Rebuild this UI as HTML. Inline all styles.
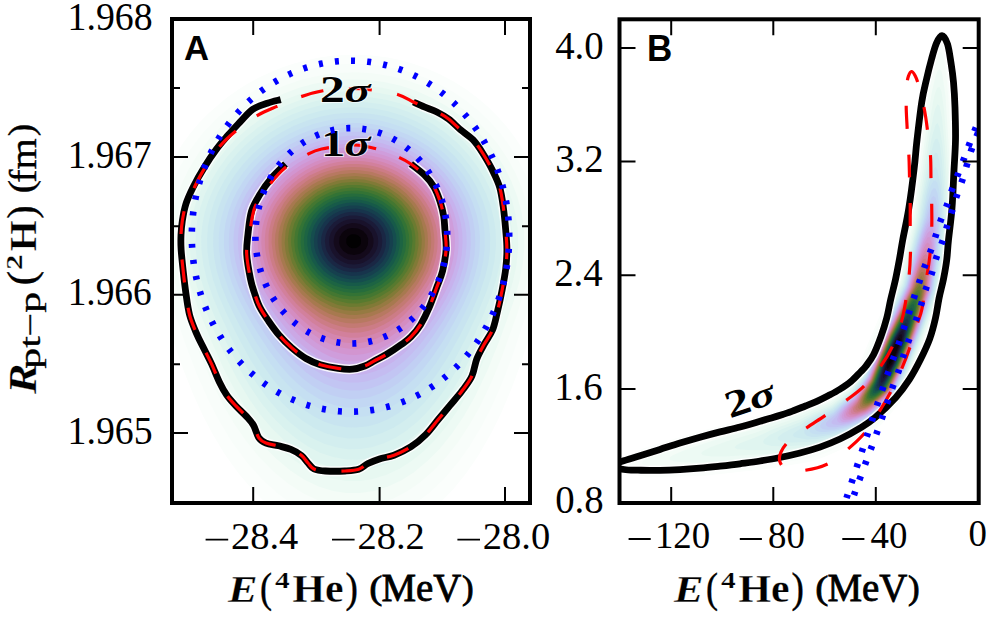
<!DOCTYPE html><html><head><meta charset="utf-8"><style>html,body{margin:0;padding:0;background:#fff;overflow:hidden}svg{display:block}</style></head><body><svg width="992" height="617" viewBox="0 0 992 617"><rect width="992" height="617" fill="#fff"/><defs><clipPath id="ca"><rect x="172" y="19" width="358" height="484"/></clipPath><clipPath id="cb"><rect x="619.5" y="19.3" width="359.20000000000005" height="483.7"/></clipPath><clipPath id="crb"><rect x="800" y="329" width="200" height="200"/></clipPath><clipPath id="crt"><rect x="800" y="0" width="200" height="329"/></clipPath></defs><g clip-path="url(#ca)"><path fill="#fbfefc" d="M344.0 54.9L358.0 54.7L372.0 55.5L388.0 57.6L400.0 60.1L414.0 64.0L426.0 68.2L440.0 74.3L454.0 81.7L466.0 89.3L478.0 98.2L488.2 107.0L498.2 117.0L507.0 127.0L514.6 137.0L522.6 149.0L530.0 162.4L531.1 191.0L531.5 241.0L531.1 295.0L530.0 334.9L520.9 363.0L511.4 389.0L501.2 413.0L491.3 433.0L478.7 455.0L466.4 473.0L453.5 489.0L440.0 503.0L410.0 504.1L354.0 504.5L298.0 504.2L265.8 503.0L252.0 489.3L238.2 473.0L225.3 455.0L213.1 435.0L202.6 415.0L192.6 393.0L183.1 369.0L172.0 337.1L170.6 271.0L171.0 183.0L172.0 161.1L176.6 153.0L183.1 143.0L190.5 133.0L199.0 123.0L208.0 113.7L226.0 98.2L238.0 89.7L248.0 83.5L258.0 78.1L270.0 72.4L282.0 67.6L294.0 63.6L306.0 60.4L318.0 57.8L332.0 55.8L344.0 54.9Z"/><path fill="#f8fdfa" d="M334.0 64.8L350.0 63.8L366.0 64.2L382.0 65.9L396.0 68.5L410.0 72.3L426.0 78.0L440.0 84.5L454.0 92.4L466.0 100.6L478.0 110.2L489.4 121.0L500.0 133.0L509.0 145.0L516.6 157.0L524.9 173.0L530.0 185.4L531.0 241.0L530.0 302.7L511.3 359.0L501.3 385.0L491.5 407.0L481.2 427.0L469.1 447.0L457.6 463.0L444.0 478.9L430.0 492.3L416.1 503.0L354.0 504.0L290.5 503.0L278.0 493.8L262.0 479.3L247.4 463.0L232.6 443.0L219.2 421.0L208.8 401.0L197.2 375.0L185.0 343.0L172.0 305.0L171.0 241.0L172.0 183.6L179.7 167.0L189.2 151.0L202.8 133.0L218.0 117.2L234.0 103.9L252.0 91.9L272.0 81.6L292.0 73.8L314.0 67.9L334.0 64.8Z"/><path fill="#f4fcf7" d="M338.0 72.9L356.0 72.3L372.0 73.2L390.0 75.9L406.0 79.9L422.0 85.6L436.0 92.0L450.0 99.9L464.0 109.7L477.2 121.0L488.8 133.0L498.5 145.0L507.8 159.0L515.4 173.0L521.5 187.0L526.6 203.0L530.0 219.1L530.0 264.4L527.8 277.0L524.9 289.0L516.8 315.0L501.0 359.0L491.1 383.0L479.6 407.0L469.4 425.0L458.0 442.2L446.0 457.5L434.0 470.3L420.0 482.4L408.0 490.7L394.0 498.2L381.0 503.0L326.3 503.0L318.0 500.2L304.0 493.7L288.0 483.5L274.0 472.1L259.1 457.0L246.1 441.0L233.7 423.0L223.2 405.0L211.3 381.0L198.6 351.0L183.1 309.0L176.7 289.0L172.0 268.8L172.0 215.0L174.8 203.0L181.1 185.0L188.7 169.0L198.6 153.0L209.3 139.0L222.0 125.5L236.0 113.3L250.0 103.3L266.0 94.0L284.0 85.8L302.0 79.6L320.0 75.4L338.0 72.9Z"/><path fill="#edfaf4" d="M330.0 80.9L348.0 79.4L366.0 79.7L384.0 81.9L400.0 85.5L416.0 90.8L432.0 97.9L446.0 105.8L460.0 115.6L473.3 127.0L484.7 139.0L495.5 153.0L504.3 167.0L511.3 181.0L517.4 197.0L521.7 213.0L524.2 231.0L524.4 247.0L522.7 265.0L519.0 283.0L513.1 303.0L499.3 341.0L487.2 371.0L474.7 397.0L463.3 417.0L452.0 433.6L440.0 448.4L428.0 460.6L414.0 472.2L402.0 479.9L388.0 486.6L374.0 491.0L360.0 493.1L346.0 493.0L332.0 490.7L318.0 486.2L304.0 479.4L290.0 470.2L276.0 458.6L264.0 446.4L251.3 431.0L238.9 413.0L228.3 395.0L217.3 373.0L206.8 349.0L193.4 315.0L185.1 291.0L179.7 269.0L177.4 251.0L177.2 235.0L178.6 221.0L181.5 207.0L185.9 193.0L191.9 179.0L199.5 165.0L209.0 151.0L219.0 139.0L230.0 127.9L242.0 117.7L256.0 107.9L270.0 99.9L284.0 93.4L300.0 87.6L314.0 83.8L330.0 80.9Z"/><path fill="#e7f8f1" d="M332.0 86.8L348.0 85.5L366.0 85.8L382.0 87.8L398.0 91.3L414.0 96.6L428.0 102.7L442.0 110.5L456.0 120.3L468.5 131.0L480.0 143.1L490.8 157.0L499.4 171.0L507.2 187.0L512.2 201.0L515.7 215.0L517.9 231.0L518.2 247.0L516.4 265.0L513.1 281.0L507.1 301.0L495.1 333.0L480.9 367.0L469.1 391.0L458.5 409.0L447.5 425.0L436.0 438.9L424.0 451.0L412.0 460.8L400.0 468.5L386.0 475.1L372.0 479.3L360.0 481.0L346.0 480.9L332.0 478.6L318.0 473.9L306.0 468.0L292.0 458.8L280.0 448.9L268.0 436.8L256.0 422.4L245.1 407.0L233.1 387.0L222.9 367.0L210.5 339.0L198.4 309.0L190.8 287.0L186.3 269.0L184.0 251.0L183.7 237.0L184.9 223.0L187.7 209.0L192.1 195.0L197.1 183.0L204.6 169.0L214.0 155.0L223.9 143.0L234.0 132.8L246.0 122.6L258.0 114.1L272.0 105.9L286.0 99.3L300.0 94.0L316.0 89.6L332.0 86.8Z"/><path fill="#e0f5f0" d="M330.0 92.7L346.0 91.2L362.0 91.2L378.0 92.8L394.0 96.1L408.0 100.4L424.0 107.0L438.0 114.7L452.0 124.3L464.5 135.0L475.9 147.0L485.3 159.0L494.1 173.0L501.0 187.0L506.8 203.0L510.3 217.0L512.1 231.0L512.4 247.0L510.9 263.0L507.6 279.0L502.3 297.0L490.9 327.0L477.2 359.0L466.3 381.0L454.6 401.0L444.0 416.3L433.5 429.0L422.0 440.6L410.0 450.5L398.0 458.2L386.0 463.9L374.0 467.8L360.0 470.0L346.0 469.9L334.0 467.9L320.0 463.4L308.0 457.6L296.0 449.9L284.0 440.2L272.0 428.4L260.6 415.0L249.2 399.0L237.2 379.0L226.9 359.0L215.0 333.0L203.4 305.0L197.1 287.0L192.5 269.0L190.2 253.0L189.7 239.0L190.7 225.0L192.9 213.0L197.0 199.0L202.7 185.0L209.1 173.0L216.9 161.0L226.4 149.0L236.0 138.9L248.0 128.3L260.0 119.6L272.0 112.3L286.0 105.4L300.0 100.0L314.0 95.8L330.0 92.7Z"/><path fill="#d9f2ef" d="M340.0 96.9L356.0 96.4L370.0 97.2L386.0 99.7L400.0 103.3L414.0 108.4L428.0 115.1L440.0 122.3L452.0 131.2L464.0 142.0L473.9 153.0L482.8 165.0L491.2 179.0L497.6 193.0L502.3 207.0L505.4 221.0L506.9 235.0L506.8 249.0L505.0 265.0L501.5 281.0L496.4 297.0L487.0 321.0L472.9 353.0L461.8 375.0L449.8 395.0L439.9 409.0L428.0 423.0L417.6 433.0L406.0 442.1L394.0 449.4L382.0 454.7L370.0 458.1L358.0 459.7L346.0 459.4L332.0 456.8L320.0 452.7L308.0 446.6L296.0 438.6L284.0 428.6L272.7 417.0L262.0 404.0L250.0 386.6L238.5 367.0L226.5 343.0L213.0 313.0L205.2 293.0L200.2 277.0L196.9 261.0L195.5 247.0L195.7 233.0L197.1 221.0L200.4 207.0L204.5 195.0L211.1 181.0L218.2 169.0L226.9 157.0L236.0 146.7L246.2 137.0L258.0 127.6L270.0 119.7L284.0 112.3L298.0 106.4L312.0 101.9L326.0 98.8L340.0 96.9Z"/><path fill="#d3eeef" d="M334.0 102.9L348.0 101.8L364.0 102.0L380.0 104.0L394.0 107.1L408.0 111.8L422.0 118.0L434.0 124.8L446.0 133.2L457.4 143.0L468.0 154.3L477.7 167.0L485.1 179.0L491.0 191.0L496.1 205.0L499.6 219.0L501.4 233.0L501.5 247.0L499.9 263.0L496.9 277.0L492.0 293.0L483.3 315.0L470.0 344.5L458.5 367.0L447.8 385.0L438.0 399.0L428.0 411.0L418.0 421.2L406.0 431.0L396.0 437.5L384.0 443.3L372.0 447.2L360.0 449.1L348.0 449.2L336.0 447.3L324.0 443.7L312.0 438.0L300.8 431.0L290.0 422.4L278.2 411.0L268.0 399.1L256.3 383.0L245.3 365.0L233.6 343.0L220.4 315.0L212.8 297.0L207.3 281.0L203.4 265.0L201.5 251.0L201.2 237.0L202.3 225.0L204.6 213.0L208.3 201.0L213.3 189.0L219.7 177.0L227.7 165.0L236.0 154.8L245.5 145.0L256.0 135.9L268.0 127.3L280.0 120.3L292.0 114.5L306.0 109.2L320.0 105.4L334.0 102.9Z"/><path fill="#cdeaef" d="M332.0 108.8L346.0 107.4L360.0 107.3L374.0 108.6L388.0 111.3L402.0 115.4L416.0 121.2L428.0 127.6L440.0 135.6L451.4 145.0L461.3 155.0L471.0 167.0L478.7 179.0L485.8 193.0L490.3 205.0L493.9 219.0L495.6 231.0L496.0 245.0L494.5 261.0L491.6 275.0L486.7 291.0L478.0 312.5L466.0 338.1L454.0 360.8L444.0 377.2L434.0 391.2L424.1 403.0L414.0 412.9L404.0 421.0L394.0 427.4L382.0 433.1L370.0 436.8L360.0 438.3L348.0 438.4L336.0 436.5L324.9 433.0L314.0 427.9L303.0 421.0L292.0 412.3L282.0 402.7L272.0 391.2L260.1 375.0L250.0 358.9L238.0 336.9L226.0 312.5L218.4 295.0L212.8 279.0L209.4 265.0L207.4 251.0L207.1 239.0L207.9 227.0L210.2 215.0L213.8 203.0L218.0 192.6L224.0 181.0L231.9 169.0L239.9 159.0L249.5 149.0L258.7 141.0L270.0 132.7L282.0 125.5L294.0 119.7L306.0 115.1L320.0 111.1L332.0 108.8Z"/><path fill="#c8e4f0" d="M346.0 113.0L358.0 112.8L372.0 113.9L384.0 116.1L398.0 120.0L410.0 124.6L422.0 130.6L434.0 138.2L444.0 146.0L453.6 155.0L462.4 165.0L469.6 175.0L476.7 187.0L482.9 201.0L486.7 213.0L489.1 225.0L490.2 237.0L489.9 251.0L488.4 263.0L485.1 277.0L479.8 293.0L471.2 313.0L459.2 337.0L448.0 357.0L437.7 373.0L428.0 385.8L418.0 396.9L408.0 406.1L398.0 413.5L388.0 419.2L378.0 423.4L368.0 426.2L356.0 427.6L346.0 427.2L334.0 424.9L324.0 421.4L314.0 416.5L302.0 408.6L292.0 400.2L282.0 390.1L272.7 379.0L262.0 364.1L251.4 347.0L238.2 323.0L227.5 301.0L221.1 285.0L216.8 271.0L214.4 259.0L213.1 245.0L213.4 233.0L215.0 221.0L218.0 209.0L222.5 197.0L228.5 185.0L234.8 175.0L242.4 165.0L251.6 155.0L262.0 145.7L272.0 138.2L282.0 132.0L294.0 125.8L308.0 120.3L320.0 116.8L334.0 114.1L346.0 113.0Z"/><path fill="#c5dff2" d="M338.0 118.8L350.0 118.0L364.0 118.3L378.0 120.1L390.0 122.9L402.0 126.9L414.0 132.2L426.0 139.1L436.0 146.2L446.2 155.0L455.6 165.0L463.3 175.0L469.6 185.0L475.6 197.0L480.1 209.0L483.1 221.0L484.7 233.0L484.8 247.0L483.3 261.0L480.2 275.0L475.6 289.0L468.8 305.0L458.8 325.0L447.6 345.0L436.1 363.0L427.2 375.0L418.0 385.5L408.0 395.1L398.0 402.8L388.0 408.7L378.0 413.1L368.0 416.0L358.0 417.3L348.0 417.2L338.0 415.7L328.0 412.7L318.0 408.1L308.0 402.1L298.0 394.4L288.0 385.0L279.1 375.0L268.0 360.4L256.6 343.0L245.0 323.0L234.7 303.0L228.5 289.0L223.7 275.0L220.7 263.0L218.9 249.0L218.7 237.0L219.6 227.0L221.5 217.0L225.2 205.0L230.4 193.0L236.0 183.0L242.9 173.0L251.3 163.0L260.0 154.4L270.0 146.1L280.0 139.3L290.0 133.6L302.0 128.1L314.0 123.8L326.0 120.8L338.0 118.8Z"/><path fill="#c2d7f3" d="M348.0 122.9L360.0 122.9L372.0 124.1L384.0 126.4L396.0 129.9L408.0 134.7L418.0 139.9L428.0 146.3L438.0 154.1L447.3 163.0L455.8 173.0L462.8 183.0L468.4 193.0L472.8 203.0L476.7 215.0L479.1 227.0L479.9 237.0L479.6 251.0L477.9 263.0L475.0 275.0L470.2 289.0L463.1 305.0L453.7 323.0L443.1 341.0L432.0 357.6L423.1 369.0L414.0 379.1L405.4 387.0L396.0 394.1L386.0 400.0L376.0 404.2L366.0 406.8L356.0 407.9L346.0 407.5L336.0 405.6L326.0 402.2L318.0 398.3L308.0 392.0L298.0 384.0L288.7 375.0L279.9 365.0L269.3 351.0L258.0 333.8L247.0 315.0L237.7 297.0L231.8 283.0L227.4 269.0L225.0 257.0L223.9 245.0L224.2 233.0L225.5 223.0L228.6 211.0L232.3 201.0L237.2 191.0L244.0 180.0L250.9 171.0L260.0 161.2L268.0 154.0L278.0 146.5L288.0 140.2L300.0 134.2L312.0 129.6L324.0 126.2L336.0 124.0L348.0 122.9Z"/><path fill="#c1cff3" d="M334.0 128.9L346.0 127.6L358.0 127.4L370.0 128.4L382.0 130.6L394.0 134.0L404.0 137.9L416.0 144.0L426.0 150.5L436.0 158.4L444.8 167.0L453.1 177.0L459.8 187.0L465.2 197.0L470.0 209.0L472.9 219.0L474.8 231.0L475.3 243.0L474.5 255.0L472.3 267.0L468.2 281.0L462.5 295.0L455.6 309.0L445.3 327.0L435.0 343.0L426.0 355.3L416.0 367.1L408.0 375.1L398.0 383.3L390.0 388.6L380.0 393.6L370.0 397.0L360.0 398.8L350.0 399.0L340.0 397.6L330.0 394.7L322.0 391.2L312.0 385.4L304.0 379.5L294.5 371.0L286.0 362.1L276.0 349.8L265.5 335.0L254.1 317.0L245.2 301.0L238.7 287.0L234.2 275.0L231.1 263.0L229.2 251.0L228.8 241.0L229.3 231.0L230.9 221.0L233.7 211.0L237.6 201.0L242.7 191.0L249.1 181.0L255.4 173.0L262.8 165.0L271.7 157.0L280.0 150.7L290.0 144.4L300.0 139.3L312.0 134.4L322.0 131.4L334.0 128.9Z"/><path fill="#c2c5f3" d="M336.0 133.0L348.0 131.8L360.0 131.8L372.0 133.1L384.0 135.5L396.0 139.4L406.0 143.6L416.0 149.1L426.0 155.9L436.0 164.3L444.0 172.6L450.6 181.0L457.1 191.0L462.2 201.0L466.1 211.0L468.8 221.0L470.6 233.0L470.8 245.0L469.7 257.0L467.2 269.0L463.5 281.0L458.5 293.0L451.3 307.0L443.1 321.0L432.5 337.0L424.0 348.4L416.0 357.8L406.9 367.0L398.0 374.5L390.0 379.9L380.0 385.1L370.0 388.6L360.0 390.4L350.0 390.6L342.0 389.6L334.0 387.6L324.0 383.6L314.0 378.0L306.0 372.2L296.0 363.3L288.0 355.0L278.0 342.9L266.5 327.0L256.3 311.0L248.5 297.0L242.9 285.0L238.5 273.0L235.4 261.0L233.9 251.0L233.4 241.0L234.0 231.0L235.7 221.0L238.5 211.0L242.6 201.0L246.7 193.0L253.2 183.0L259.5 175.0L267.1 167.0L276.0 159.2L284.4 153.0L294.0 147.2L304.0 142.2L314.0 138.3L324.0 135.3L336.0 133.0Z"/><path fill="#c4bcf1" d="M338.0 136.8L350.0 135.8L362.0 136.1L374.0 137.6L384.0 139.8L394.0 143.0L404.0 147.3L414.0 152.7L423.3 159.0L432.0 166.2L440.6 175.0L447.0 183.0L453.5 193.0L458.5 203.0L462.3 213.0L464.9 223.0L466.3 233.0L466.7 243.0L465.7 255.0L463.4 267.0L459.7 279.0L454.7 291.0L448.0 303.9L440.0 317.2L430.0 331.8L421.3 343.0L412.0 353.5L404.0 361.2L394.0 369.1L386.0 374.0L376.0 378.6L366.0 381.5L358.0 382.6L348.0 382.5L340.0 381.2L330.0 378.2L322.0 374.5L312.0 368.3L304.0 362.1L296.0 354.8L288.0 346.3L278.0 334.2L268.0 320.4L259.3 307.0L251.5 293.0L246.8 283.0L242.5 271.0L239.5 259.0L238.2 249.0L237.9 239.0L238.7 229.0L240.7 219.0L243.1 211.0L247.4 201.0L251.7 193.0L257.0 185.0L264.0 176.3L272.0 168.1L280.0 161.3L288.0 155.6L298.0 149.7L308.0 145.0L318.0 141.3L328.0 138.6L338.0 136.8Z"/><path fill="#c7b2ed" d="M338.0 140.8L348.0 139.9L360.0 139.9L372.0 141.2L382.0 143.3L392.0 146.5L402.0 150.7L412.0 156.1L420.0 161.5L428.0 167.9L436.0 175.8L443.5 185.0L448.9 193.0L454.2 203.0L458.1 213.0L460.8 223.0L462.3 233.0L462.6 243.0L461.7 255.0L459.2 267.0L456.1 277.0L451.1 289.0L445.9 299.0L438.7 311.0L430.0 323.7L421.3 335.0L412.0 345.5L404.0 353.2L394.0 361.2L386.0 366.3L376.0 371.0L366.0 374.0L358.0 375.1L350.0 375.1L340.0 373.7L332.0 371.3L324.0 367.8L316.0 363.2L308.0 357.5L300.0 350.6L290.0 340.5L280.0 328.6L271.3 317.0L262.0 303.0L255.2 291.0L249.7 279.0L246.3 269.0L243.8 259.0L242.4 249.0L242.1 239.0L242.7 231.0L244.5 221.0L246.9 213.0L251.0 203.0L255.3 195.0L260.6 187.0L267.0 179.0L274.0 171.8L282.0 164.9L290.1 159.0L300.0 153.1L308.0 149.3L318.0 145.5L328.0 142.7L338.0 140.8Z"/><path fill="#cba8e5" d="M336.0 144.9L346.0 143.8L358.0 143.6L368.0 144.4L378.0 146.3L388.0 149.1L398.0 153.0L408.0 158.1L416.0 163.2L424.0 169.5L432.0 177.1L438.8 185.0L445.6 195.0L450.9 205.0L454.0 213.0L456.8 223.0L458.4 233.0L458.7 243.0L458.0 253.0L456.2 263.0L453.4 273.0L449.5 283.0L444.6 293.0L438.0 304.4L430.0 316.2L421.7 327.0L412.0 338.0L404.0 345.8L396.0 352.4L388.0 357.9L378.0 363.0L370.0 365.8L360.0 367.8L352.0 368.1L344.0 367.3L336.0 365.5L326.0 361.5L318.0 357.2L310.0 351.6L302.0 345.0L294.0 337.2L284.8 327.0L276.0 316.0L268.0 304.6L260.9 293.0L255.0 281.0L251.1 271.0L248.4 261.0L246.7 251.0L246.2 243.0L246.6 233.0L248.2 223.0L250.4 215.0L253.5 207.0L257.6 199.0L262.6 191.0L268.7 183.0L276.0 175.2L283.0 169.0L292.0 162.3L300.0 157.5L308.0 153.4L318.0 149.5L328.0 146.6L336.0 144.9Z"/><path fill="#cf9ddb" d="M334.0 149.0L344.0 147.6L354.0 147.1L364.0 147.6L374.0 149.1L384.0 151.6L394.0 155.2L404.0 160.0L412.0 164.9L420.1 171.0L428.0 178.2L435.7 187.0L441.3 195.0L445.8 203.0L450.1 213.0L452.5 221.0L454.4 231.0L455.0 239.0L454.7 249.0L453.2 259.0L450.7 269.0L447.1 279.0L442.4 289.0L436.7 299.0L430.0 309.1L422.0 319.7L414.0 328.9L404.0 338.8L396.0 345.5L386.0 352.2L378.0 356.2L370.0 359.0L362.0 360.8L354.0 361.4L346.0 360.9L338.0 359.2L330.0 356.5L322.0 352.6L314.0 347.6L306.0 341.5L298.0 334.3L289.1 325.0L280.0 314.2L272.0 303.3L265.5 293.0L260.2 283.0L256.0 273.0L252.9 263.0L250.9 253.0L250.2 245.0L250.4 235.0L251.4 227.0L253.3 219.0L256.0 211.0L259.7 203.0L264.4 195.0L270.3 187.0L277.5 179.0L284.0 173.0L298.0 162.9L306.0 158.4L316.0 154.1L324.0 151.4L334.0 149.0Z"/><path fill="#d295d0" d="M346.0 151.0L356.0 150.7L366.0 151.4L376.0 153.2L384.0 155.3L394.0 159.1L402.0 163.0L410.0 167.8L418.0 173.8L425.8 181.0L431.1 187.0L437.1 195.0L441.8 203.0L445.5 211.0L448.2 219.0L450.4 229.0L451.2 237.0L451.2 247.0L450.3 255.0L448.1 265.0L444.8 275.0L440.3 285.0L434.8 295.0L428.2 305.0L422.0 313.1L414.0 322.4L406.0 330.5L398.0 337.4L388.0 344.5L380.0 348.8L372.0 352.0L364.0 354.1L356.0 354.9L348.0 354.7L340.0 353.3L332.0 350.9L324.0 347.2L316.0 342.5L308.0 336.6L300.0 329.7L292.0 321.7L284.0 312.6L276.0 302.1L270.0 293.0L264.4 283.0L260.0 273.0L256.8 263.0L254.8 253.0L254.0 245.0L254.2 235.0L255.2 227.0L257.2 219.0L260.1 211.0L263.9 203.0L268.8 195.0L274.0 188.2L280.0 181.6L287.1 175.0L294.0 169.7L302.0 164.6L310.0 160.4L320.0 156.4L328.0 153.9L336.0 152.2L346.0 151.0Z"/><path fill="#d48dc1" d="M342.0 154.8L352.0 154.1L362.0 154.4L372.0 155.8L380.0 157.7L388.0 160.3L396.0 163.7L404.0 168.1L412.0 173.5L420.0 180.1L426.0 186.3L431.5 193.0L436.7 201.0L440.8 209.0L443.9 217.0L446.5 227.0L447.6 235.0L447.7 245.0L447.0 253.0L445.0 263.0L442.5 271.0L439.3 279.0L434.1 289.0L428.0 298.7L422.0 306.9L414.0 316.3L406.0 324.4L398.0 331.3L390.0 337.1L382.0 341.8L374.0 345.3L366.0 347.6L358.0 348.8L350.0 348.8L344.0 348.1L336.0 346.2L328.0 343.1L320.0 338.9L312.0 333.6L304.0 327.2L296.0 319.7L288.0 311.1L280.0 301.1L274.0 292.4L268.5 283.0L264.8 275.0L261.2 265.0L258.8 255.0L257.9 247.0L257.7 239.0L258.3 231.0L259.9 223.0L262.4 215.0L264.9 209.0L269.2 201.0L274.0 193.9L279.7 187.0L286.0 180.6L292.7 175.0L300.0 169.9L308.0 165.2L316.0 161.5L324.0 158.7L332.0 156.5L342.0 154.8Z"/><path fill="#d486af" d="M338.0 158.7L346.0 157.7L356.0 157.4L366.0 158.2L374.0 159.6L384.0 162.4L392.0 165.5L400.0 169.6L408.0 174.7L416.0 181.0L422.0 186.9L428.0 194.0L432.8 201.0L437.1 209.0L440.3 217.0L442.6 225.0L443.9 233.0L444.3 241.0L443.8 251.0L442.4 259.0L440.2 267.0L437.3 275.0L433.5 283.0L428.0 292.3L422.0 300.8L415.3 309.0L408.0 316.7L400.0 324.0L392.0 330.1L384.0 335.0L376.0 338.8L368.0 341.4L360.0 342.9L352.0 343.2L344.0 342.4L336.0 340.5L330.0 338.3L322.0 334.3L316.0 330.7L308.0 324.8L300.0 317.8L286.0 302.8L278.7 293.0L273.7 285.0L268.6 275.0L265.5 267.0L263.3 259.0L261.9 251.0L261.3 243.0L261.5 235.0L262.6 227.0L264.1 221.0L267.0 213.0L270.9 205.0L274.6 199.0L280.0 191.8L286.0 185.3L292.0 179.9L298.3 175.0L306.0 170.1L314.0 166.0L322.0 162.8L330.0 160.4L338.0 158.7Z"/><path fill="#d2809c" d="M346.0 161.0L356.0 160.7L364.0 161.2L372.0 162.5L380.0 164.5L388.0 167.4L396.0 171.1L404.0 175.9L410.0 180.2L416.0 185.5L422.0 191.8L427.6 199.0L432.0 206.3L435.2 213.0L438.1 221.0L440.0 229.0L440.9 237.0L440.9 245.0L440.1 253.0L438.5 261.0L436.0 269.0L432.7 277.0L428.5 285.0L423.4 293.0L417.3 301.0L404.0 315.1L396.0 321.8L388.0 327.3L380.0 331.6L374.0 334.1L366.0 336.5L358.0 337.7L350.0 337.7L342.0 336.6L334.0 334.4L328.0 332.0L320.0 327.8L312.0 322.5L298.0 310.5L291.0 303.0L284.5 295.0L279.0 287.0L274.4 279.0L270.7 271.0L268.0 263.0L266.0 255.0L265.0 247.0L264.8 239.0L265.5 231.0L267.2 223.0L269.1 217.0L272.6 209.0L276.0 203.0L280.2 197.0L286.0 190.1L292.0 184.2L298.4 179.0L306.0 173.9L314.0 169.6L322.0 166.3L330.0 163.8L338.0 162.0L346.0 161.0Z"/><path fill="#cc7c86" d="M340.0 164.9L348.0 164.0L358.0 163.9L366.0 164.7L374.0 166.2L382.0 168.5L390.0 171.7L398.0 175.9L404.0 179.7L410.0 184.4L416.0 190.0L422.0 196.8L426.3 203.0L430.0 209.5L433.3 217.0L435.8 225.0L437.2 233.0L437.7 241.0L437.3 249.0L436.0 257.0L433.9 265.0L430.9 273.0L426.9 281.0L417.7 295.0L410.9 303.0L404.0 309.9L396.0 316.7L390.0 320.9L384.0 324.5L376.0 328.3L368.0 330.9L360.0 332.4L352.0 332.7L346.0 332.2L338.0 330.6L330.0 327.8L322.0 323.9L316.0 320.2L302.0 309.1L295.8 303.0L288.9 295.0L279.4 281.0L275.3 273.0L272.2 265.0L269.9 257.0L268.6 249.0L268.5 235.0L269.3 229.0L271.3 221.0L274.4 213.0L277.5 207.0L286.0 195.0L291.6 189.0L298.0 183.4L310.0 175.3L324.0 168.9L332.0 166.5L340.0 164.9Z"/><path fill="#c37a73" d="M352.0 166.9L360.0 167.2L368.0 168.1L376.0 169.9L384.0 172.5L392.0 176.1L398.0 179.5L410.0 188.5L420.0 199.4L425.1 207.0L428.2 213.0L430.6 219.0L432.9 227.0L434.1 235.0L434.4 241.0L434.0 249.0L432.7 257.0L428.2 271.0L420.7 285.0L416.0 291.7L409.9 299.0L404.0 305.0L396.0 311.8L390.0 316.1L382.0 320.7L374.0 324.2L368.0 326.1L360.0 327.6L354.0 327.9L348.0 327.7L340.0 326.3L332.0 323.8L326.0 321.1L320.0 317.9L312.0 312.5L304.0 306.0L298.0 300.1L287.2 287.0L279.0 273.0L275.7 265.0L273.4 257.0L271.6 243.0L271.9 235.0L272.7 229.0L274.8 221.0L277.1 215.0L284.0 202.8L288.5 197.0L294.1 191.0L306.0 181.4L312.0 177.8L320.0 173.8L328.0 170.9L336.0 168.8L344.0 167.5L352.0 166.9Z"/><path fill="#b77961" d="M342.0 170.8L350.0 170.1L358.0 170.1L372.0 172.1L386.0 176.7L394.0 180.7L400.0 184.5L406.0 189.1L412.0 194.8L417.3 201.0L421.4 207.0L427.3 219.0L429.1 225.0L430.7 233.0L431.2 239.0L431.0 247.0L428.4 261.0L425.6 269.0L422.8 275.0L418.1 283.0L413.9 289.0L408.0 296.0L402.0 302.0L396.0 307.1L388.0 312.8L382.0 316.2L374.0 319.7L366.0 322.0L360.0 323.0L354.0 323.4L346.0 322.9L340.0 321.7L332.0 319.2L324.0 315.5L318.0 312.0L306.0 303.0L300.0 297.3L294.0 290.5L284.7 277.0L281.7 271.0L278.5 263.0L276.8 257.0L275.4 249.0L274.9 243.0L275.2 235.0L277.6 223.0L282.7 211.0L286.4 205.0L290.9 199.0L296.0 193.5L302.0 188.2L314.0 180.2L328.0 174.1L342.0 170.8Z"/><path fill="#a7794f" d="M354.0 173.0L368.0 174.3L382.0 178.3L394.0 184.2L400.0 188.2L406.0 193.2L415.0 203.0L419.0 209.0L422.2 215.0L426.4 227.0L427.5 233.0L428.0 241.0L427.6 249.0L426.6 255.0L424.4 263.0L422.1 269.0L415.6 281.0L406.0 293.3L394.0 304.2L388.0 308.4L380.0 312.8L372.0 316.0L366.0 317.7L354.0 319.1L342.0 317.9L334.0 315.6L328.0 313.2L322.0 310.1L314.0 304.9L302.0 294.5L292.0 282.5L287.3 275.0L284.3 269.0L281.3 261.0L279.7 255.0L278.7 249.0L278.2 241.0L278.7 233.0L279.9 227.0L284.2 215.0L287.5 209.0L291.7 203.0L301.0 193.0L312.0 184.8L318.0 181.5L326.0 178.0L340.0 174.2L354.0 173.0Z"/><path fill="#967a42" d="M342.0 176.9L356.0 176.0L370.0 177.7L378.0 180.0L384.0 182.3L396.0 189.0L406.0 197.3L411.1 203.0L415.4 209.0L418.8 215.0L421.4 221.0L424.4 233.0L424.9 239.0L424.7 247.0L422.4 259.0L417.8 271.0L410.0 283.6L400.0 294.7L388.0 304.1L376.0 310.4L370.0 312.5L362.0 314.3L356.0 314.9L348.0 314.7L336.0 312.1L324.0 307.0L312.0 299.0L301.3 289.0L292.2 277.0L286.1 265.0L283.5 257.0L282.2 251.0L281.6 245.0L281.6 237.0L283.8 225.0L285.9 219.0L288.8 213.0L295.6 203.0L305.7 193.0L316.0 185.9L328.0 180.4L342.0 176.9Z"/><path fill="#817a37" d="M350.0 179.0L364.0 179.6L376.0 182.4L388.0 187.6L399.0 195.0L408.0 203.9L411.8 209.0L415.4 215.0L418.1 221.0L420.0 227.0L421.8 239.0L421.5 247.0L420.7 253.0L417.1 265.0L410.8 277.0L403.1 287.0L392.0 297.1L380.0 304.6L368.0 309.1L356.0 310.9L344.0 310.2L332.0 306.7L320.0 300.5L314.0 296.3L307.8 291.0L298.8 281.0L291.4 269.0L286.8 257.0L285.5 251.0L284.7 243.0L285.6 231.0L287.1 225.0L289.3 219.0L294.9 209.0L303.5 199.0L313.5 191.0L324.5 185.0L338.0 180.6L350.0 179.0Z"/><path fill="#6c7b31" d="M342.0 182.8L356.0 181.8L368.0 183.3L380.0 187.0L391.3 193.0L401.3 201.0L409.5 211.0L414.8 221.0L416.8 227.0L418.1 233.0L418.6 245.0L416.5 257.0L411.8 269.0L405.6 279.0L396.6 289.0L386.0 297.2L374.0 303.3L362.0 306.6L350.0 307.1L338.0 304.9L326.0 300.0L316.0 293.7L306.0 284.6L298.0 274.3L292.1 263.0L288.7 251.0L287.9 239.0L289.3 229.0L291.1 223.0L293.7 217.0L300.0 207.3L308.0 198.9L318.0 191.6L330.0 185.9L342.0 182.8Z"/><path fill="#577a2f" d="M348.0 185.0L360.0 185.0L372.0 187.3L384.0 192.1L394.0 198.5L402.0 206.1L408.4 215.0L413.0 225.0L414.6 231.0L415.5 237.0L415.1 249.0L412.7 259.0L410.4 265.0L407.2 271.0L400.0 281.0L390.0 290.4L380.0 296.8L370.0 301.0L358.0 303.4L348.0 303.2L336.0 300.6L324.0 295.1L314.0 287.9L305.3 279.0L298.0 268.2L293.4 257.0L291.2 245.0L291.1 239.0L291.7 233.0L294.4 223.0L299.6 213.0L306.0 205.0L315.1 197.0L325.4 191.0L336.0 187.1L348.0 185.0Z"/><path fill="#447731" d="M342.0 188.7L352.0 187.6L364.0 188.4L376.0 191.7L386.0 196.6L394.7 203.0L402.2 211.0L408.1 221.0L411.5 231.0L412.5 241.0L411.2 253.0L407.9 263.0L402.3 273.0L394.0 282.8L386.0 289.4L376.0 295.0L370.0 297.4L364.0 298.9L354.0 300.0L342.0 298.6L332.0 295.4L320.7 289.0L311.3 281.0L304.0 272.0L298.1 261.0L295.1 251.0L294.2 241.0L295.3 231.0L298.7 221.0L304.8 211.0L312.0 203.3L320.4 197.0L330.0 192.2L342.0 188.7Z"/><path fill="#337335" d="M346.0 191.0L358.0 190.6L368.0 192.2L378.0 195.7L387.5 201.0L396.0 208.4L402.0 216.1L406.5 225.0L409.0 235.0L409.3 245.0L407.5 255.0L403.5 265.0L396.9 275.0L389.0 283.0L380.0 289.3L370.0 293.8L360.0 296.1L350.0 296.3L340.0 294.6L330.0 290.8L320.0 284.5L311.9 277.0L304.5 267.0L300.0 257.0L297.7 247.0L297.6 237.0L299.0 229.0L303.2 219.0L308.7 211.0L317.0 203.0L326.0 197.2L336.0 193.1L346.0 191.0Z"/><path fill="#266c3c" d="M342.0 194.6L352.0 193.4L362.0 194.0L372.0 196.4L382.0 201.0L390.0 206.7L396.1 213.0L401.3 221.0L405.1 231.0L406.3 241.0L405.3 251.0L402.0 261.0L397.5 269.0L390.9 277.0L382.0 284.3L374.0 288.7L364.0 291.9L354.0 293.0L344.0 292.1L334.0 289.0L326.0 284.8L318.0 278.7L310.0 269.7L305.0 261.0L301.6 251.0L300.6 243.0L301.3 233.0L304.6 223.0L309.4 215.0L316.0 207.7L324.0 201.7L332.0 197.7L342.0 194.6Z"/><path fill="#1d6443" d="M346.0 196.9L356.0 196.4L366.0 197.7L374.0 200.3L382.8 205.0L390.2 211.0L396.0 218.0L400.6 227.0L402.7 235.0L403.0 245.0L401.5 253.0L398.5 261.0L393.7 269.0L388.0 275.4L380.0 281.7L372.0 285.9L362.0 288.9L352.0 289.6L344.0 288.6L334.0 285.4L326.0 280.9L318.0 274.3L312.0 267.0L307.6 259.0L304.5 249.0L303.9 239.0L305.1 231.0L308.1 223.0L313.3 215.0L320.0 208.3L328.0 202.8L336.0 199.3L346.0 196.9Z"/><path fill="#175a49" d="M342.0 200.6L350.0 199.4L360.0 199.7L368.0 201.4L376.9 205.0L384.0 209.6L390.0 215.3L395.3 223.0L398.6 231.0L399.8 239.0L399.5 247.0L397.6 255.0L393.8 263.0L388.0 270.8L382.0 276.4L374.0 281.4L366.0 284.5L358.0 286.0L348.0 285.9L340.0 284.1L332.0 280.7L324.0 275.4L317.5 269.0L312.1 261.0L308.8 253.0L307.3 245.0L307.3 237.0L309.1 229.0L312.9 221.0L319.3 213.0L326.0 207.6L334.0 203.3L342.0 200.6Z"/><path fill="#154d4e" d="M346.0 202.9L354.0 202.3L362.0 203.0L370.0 205.2L378.0 209.1L384.0 213.7L390.0 220.4L393.7 227.0L396.1 235.0L396.6 243.0L395.4 251.0L392.3 259.0L388.6 265.0L383.3 271.0L376.0 276.5L370.0 279.6L362.0 282.0L354.0 282.8L346.0 282.1L338.0 279.9L330.0 275.7L323.9 271.0L318.0 264.3L313.8 257.0L311.2 249.0L310.4 241.0L311.4 233.0L314.0 225.7L318.0 219.2L323.9 213.0L330.0 208.7L338.0 205.0L346.0 202.9Z"/><path fill="#16404e" d="M342.0 206.9L350.0 205.5L358.0 205.6L365.5 207.0L372.0 209.4L378.1 213.0L384.0 218.2L389.0 225.0L391.7 231.0L393.0 237.0L393.1 245.0L391.2 253.0L388.5 259.0L384.0 265.4L378.1 271.0L372.0 274.9L366.0 277.4L358.0 279.2L350.0 279.2L342.0 277.7L336.0 275.3L330.0 271.7L324.0 266.3L319.8 261.0L315.9 253.0L314.3 247.0L313.9 239.0L315.4 231.0L318.1 225.0L322.4 219.0L328.0 213.8L334.0 210.1L342.0 206.9Z"/><path fill="#17344c" d="M348.0 208.9L356.0 208.6L362.0 209.4L368.0 211.2L374.0 214.2L380.0 218.8L383.7 223.0L387.2 229.0L389.2 235.0L389.7 243.0L388.8 249.0L386.7 255.0L383.2 261.0L378.0 266.6L372.0 271.0L366.0 273.8L360.0 275.4L352.0 275.9L346.0 275.1L338.0 272.4L332.2 269.0L327.5 265.0L322.7 259.0L319.6 253.0L317.9 247.0L317.4 241.0L318.0 234.9L320.0 228.9L324.0 222.3L328.0 218.1L334.0 213.7L340.0 210.9L348.0 208.9Z"/><path fill="#1a2744" d="M346.0 212.6L352.0 211.8L360.0 212.4L366.0 214.0L372.0 216.9L377.3 221.0L380.8 225.0L383.3 229.0L385.5 235.0L386.1 241.0L385.6 247.0L384.0 252.2L381.6 257.0L378.0 261.7L374.0 265.3L368.0 269.1L362.0 271.3L356.0 272.2L350.0 272.1L344.0 270.9L338.0 268.4L332.9 265.0L328.0 260.2L324.5 255.0L322.1 249.0L321.1 243.0L321.3 237.0L323.0 231.0L325.0 227.0L329.9 221.0L334.0 217.7L340.0 214.5L346.0 212.6Z"/><path fill="#1b1b38" d="M344.0 216.8L350.0 215.5L356.0 215.4L362.0 216.4L366.0 217.8L370.0 219.9L374.1 223.0L377.7 227.0L380.1 231.0L381.5 235.0L382.3 241.0L381.7 247.0L380.4 251.0L378.0 255.5L374.0 260.4L370.0 263.6L366.0 265.8L362.0 267.4L356.0 268.5L350.0 268.3L344.0 266.9L338.0 264.1L333.9 261.0L330.0 256.6L326.8 251.0L325.6 247.0L324.9 241.0L325.7 235.0L327.2 231.0L330.0 226.4L334.0 222.2L338.8 219.0L344.0 216.8Z"/><path fill="#19122b" d="M354.0 219.0L360.0 219.7L364.0 221.0L370.5 225.0L374.3 229.0L376.5 233.0L377.8 237.0L378.2 241.0L377.9 245.0L376.8 249.0L374.8 253.0L371.7 257.0L368.0 260.1L364.0 262.3L360.0 263.7L354.0 264.5L348.0 263.9L344.0 262.6L340.0 260.6L336.0 257.4L332.5 253.0L330.5 249.0L329.4 245.0L329.1 241.0L329.5 237.0L330.7 233.0L333.0 229.0L336.8 225.0L340.0 222.7L344.0 220.8L348.0 219.6L354.0 219.0Z"/><path fill="#140a1b" d="M346.0 224.4L352.0 223.1L356.0 223.2L360.0 224.0L366.2 227.0L368.5 229.0L371.6 233.0L373.5 239.0L373.5 243.0L372.7 247.0L369.3 253.0L364.0 257.4L360.0 259.2L356.0 260.0L352.0 260.1L348.0 259.4L344.0 257.8L340.0 255.0L336.0 250.1L334.6 247.0L333.7 243.0L333.8 239.0L334.8 235.0L336.0 232.5L338.8 229.0L342.0 226.4L346.0 224.4Z"/><path fill="#0b040c" d="M348.0 228.8L352.0 227.9L358.0 228.4L363.2 231.0L366.7 235.0L368.2 239.0L367.8 245.0L366.0 248.7L364.1 251.0L360.0 253.7L354.0 255.1L348.0 254.0L343.3 251.0L340.3 247.0L339.1 243.0L339.6 237.0L342.0 232.9L344.1 231.0L348.0 228.8Z"/><path fill="#020102" d="M350.0 235.0L352.0 234.3L356.0 234.5L358.0 235.4L360.0 237.2L360.9 239.0L361.0 243.0L360.1 245.0L358.0 247.1L356.0 248.0L352.0 248.2L349.3 247.0L347.3 245.0L346.3 243.0L346.4 239.0L347.5 237.0L350.0 235.0Z"/><path d="M413.4 102.0C415.2 102.8 420.5 105.3 424.3 106.9C428.1 108.5 432.3 109.7 436.4 111.7C440.4 113.7 444.6 116.0 448.6 119.0C452.7 122.0 456.6 126.5 460.7 129.9C464.8 133.3 469.2 135.8 472.9 139.7C476.5 143.5 479.4 147.9 482.6 153.0C485.8 158.1 489.5 164.3 492.3 170.0C495.1 175.7 497.8 180.9 499.6 187.0C501.4 193.1 502.2 199.2 503.2 206.4C504.2 213.6 505.1 222.8 505.7 230.0C506.3 237.2 506.9 242.9 506.9 249.4C506.9 255.9 506.5 262.0 505.7 268.9C504.9 275.8 503.4 283.4 502.0 290.7C500.6 298.0 498.8 306.1 497.2 312.6C495.6 319.2 494.7 324.7 492.5 330.0C490.3 335.3 486.6 339.7 484.0 344.6C481.4 349.5 478.7 353.9 476.7 359.2C474.7 364.5 474.3 370.9 471.9 376.2C469.5 381.5 465.8 385.9 462.1 390.8C458.5 395.7 454.1 400.5 450.0 405.4C445.9 410.3 441.9 415.1 437.8 420.0C433.8 424.9 430.1 430.2 425.7 434.6C421.2 439.1 416.4 443.3 411.1 446.7C405.8 450.1 399.3 453.2 394.0 455.2C388.7 457.2 383.8 457.5 379.5 458.9C375.2 460.3 371.5 461.8 368.0 463.5C364.5 465.2 362.5 468.1 358.7 469.3C354.9 470.6 350.6 470.7 345.0 471.0C339.4 471.3 330.6 471.3 325.4 471.0C320.2 470.7 316.9 470.3 314.0 469.0C311.1 467.7 310.1 465.2 308.0 463.0C305.9 460.8 304.5 457.9 301.6 455.6C298.8 453.3 294.8 451.0 290.9 449.4C287.0 447.8 282.6 446.9 278.5 445.8C274.4 444.8 269.3 444.4 266.0 443.1C262.7 441.8 260.9 440.8 258.8 437.8C256.7 434.8 255.6 428.9 253.5 425.3C251.4 421.7 249.4 419.7 246.4 416.4C243.4 413.1 239.0 409.3 235.7 405.7C232.4 402.1 229.4 398.9 226.7 395.0C224.0 391.1 222.1 387.7 219.6 382.5C217.1 377.3 214.0 369.2 211.4 363.6C208.8 358.0 206.5 353.9 204.1 349.0C201.7 344.1 199.3 340.1 196.9 334.4C194.5 328.7 191.4 321.9 189.6 315.0C187.8 308.1 186.9 300.1 185.9 293.2C184.9 286.3 184.3 281.0 183.5 273.7C182.7 266.4 181.5 255.9 181.1 249.4C180.7 242.9 180.8 239.6 181.0 234.9C181.2 230.2 181.5 226.2 182.3 221.0C183.1 215.8 184.1 209.7 185.9 204.0C187.7 198.3 190.2 193.1 193.2 187.0C196.2 180.9 200.2 173.9 204.1 167.6C207.9 161.3 212.2 154.9 216.3 149.4C220.4 143.9 224.4 139.5 228.4 134.8C232.4 130.1 236.6 125.7 240.6 121.4C244.6 117.2 248.2 112.3 252.7 109.3C257.1 106.3 262.6 104.8 267.3 103.2C272.0 101.6 278.5 100.2 280.7 99.6" fill="none" stroke="#ffffff" stroke-opacity="0.85" stroke-width="9.8" stroke-linejoin="round" /><path d="M413.4 102.0C415.2 102.8 420.5 105.3 424.3 106.9C428.1 108.5 432.3 109.7 436.4 111.7C440.4 113.7 444.6 116.0 448.6 119.0C452.7 122.0 456.6 126.5 460.7 129.9C464.8 133.3 469.2 135.8 472.9 139.7C476.5 143.5 479.4 147.9 482.6 153.0C485.8 158.1 489.5 164.3 492.3 170.0C495.1 175.7 497.8 180.9 499.6 187.0C501.4 193.1 502.2 199.2 503.2 206.4C504.2 213.6 505.1 222.8 505.7 230.0C506.3 237.2 506.9 242.9 506.9 249.4C506.9 255.9 506.5 262.0 505.7 268.9C504.9 275.8 503.4 283.4 502.0 290.7C500.6 298.0 498.8 306.1 497.2 312.6C495.6 319.2 494.7 324.7 492.5 330.0C490.3 335.3 486.6 339.7 484.0 344.6C481.4 349.5 478.7 353.9 476.7 359.2C474.7 364.5 474.3 370.9 471.9 376.2C469.5 381.5 465.8 385.9 462.1 390.8C458.5 395.7 454.1 400.5 450.0 405.4C445.9 410.3 441.9 415.1 437.8 420.0C433.8 424.9 430.1 430.2 425.7 434.6C421.2 439.1 416.4 443.3 411.1 446.7C405.8 450.1 399.3 453.2 394.0 455.2C388.7 457.2 383.8 457.5 379.5 458.9C375.2 460.3 371.5 461.8 368.0 463.5C364.5 465.2 362.5 468.1 358.7 469.3C354.9 470.6 350.6 470.7 345.0 471.0C339.4 471.3 330.6 471.3 325.4 471.0C320.2 470.7 316.9 470.3 314.0 469.0C311.1 467.7 310.1 465.2 308.0 463.0C305.9 460.8 304.5 457.9 301.6 455.6C298.8 453.3 294.8 451.0 290.9 449.4C287.0 447.8 282.6 446.9 278.5 445.8C274.4 444.8 269.3 444.4 266.0 443.1C262.7 441.8 260.9 440.8 258.8 437.8C256.7 434.8 255.6 428.9 253.5 425.3C251.4 421.7 249.4 419.7 246.4 416.4C243.4 413.1 239.0 409.3 235.7 405.7C232.4 402.1 229.4 398.9 226.7 395.0C224.0 391.1 222.1 387.7 219.6 382.5C217.1 377.3 214.0 369.2 211.4 363.6C208.8 358.0 206.5 353.9 204.1 349.0C201.7 344.1 199.3 340.1 196.9 334.4C194.5 328.7 191.4 321.9 189.6 315.0C187.8 308.1 186.9 300.1 185.9 293.2C184.9 286.3 184.3 281.0 183.5 273.7C182.7 266.4 181.5 255.9 181.1 249.4C180.7 242.9 180.8 239.6 181.0 234.9C181.2 230.2 181.5 226.2 182.3 221.0C183.1 215.8 184.1 209.7 185.9 204.0C187.7 198.3 190.2 193.1 193.2 187.0C196.2 180.9 200.2 173.9 204.1 167.6C207.9 161.3 212.2 154.9 216.3 149.4C220.4 143.9 224.4 139.5 228.4 134.8C232.4 130.1 236.6 125.7 240.6 121.4C244.6 117.2 248.2 112.3 252.7 109.3C257.1 106.3 262.6 104.8 267.3 103.2C272.0 101.6 278.5 100.2 280.7 99.6" fill="none" stroke="#000" stroke-width="6.8" stroke-linejoin="round" stroke-linecap="butt" /><path d="M410.9 164.0C413.1 165.8 420.4 171.1 424.3 174.9C428.2 178.7 431.4 182.6 434.0 187.0C436.6 191.4 438.5 196.7 440.1 201.6C441.7 206.5 442.9 211.5 443.7 216.2C444.5 220.9 444.5 224.5 444.9 230.0C445.3 235.5 446.5 242.5 446.1 249.4C445.7 256.3 444.1 264.8 442.5 271.3C440.9 277.8 438.6 282.2 436.4 288.3C434.2 294.4 431.7 301.6 429.1 307.7C426.5 313.8 423.6 319.8 420.6 324.7C417.6 329.6 414.1 333.6 410.9 336.9C407.7 340.2 405.3 341.7 401.3 344.6C397.3 347.5 391.1 351.7 386.7 354.3C382.3 356.9 378.6 358.6 375.0 360.5C371.4 362.4 368.6 364.6 364.8 366.0C361.0 367.4 356.8 368.8 352.4 369.2C347.9 369.6 343.5 369.1 338.1 368.3C332.8 367.6 325.7 366.3 320.3 364.7C314.9 363.1 310.8 361.3 306.0 358.5C301.2 355.7 296.2 351.7 291.7 347.8C287.2 343.9 283.1 339.8 279.2 335.3C275.3 330.8 271.8 325.8 268.5 321.0C265.2 316.2 262.0 311.6 259.6 306.8C257.2 302.1 255.8 297.1 254.3 292.5C252.8 287.9 251.8 285.4 250.5 279.0C249.2 272.6 247.1 261.7 246.7 254.3C246.3 247.0 247.1 242.1 247.9 234.9C248.7 227.7 249.5 218.1 251.5 211.3C253.5 204.5 256.6 200.0 260.0 194.3C263.4 188.6 267.9 182.4 272.2 177.3C276.4 172.2 283.3 166.2 285.5 164.0" fill="none" stroke="#ffffff" stroke-opacity="0.85" stroke-width="9.8" stroke-linejoin="round" /><path d="M410.9 164.0C413.1 165.8 420.4 171.1 424.3 174.9C428.2 178.7 431.4 182.6 434.0 187.0C436.6 191.4 438.5 196.7 440.1 201.6C441.7 206.5 442.9 211.5 443.7 216.2C444.5 220.9 444.5 224.5 444.9 230.0C445.3 235.5 446.5 242.5 446.1 249.4C445.7 256.3 444.1 264.8 442.5 271.3C440.9 277.8 438.6 282.2 436.4 288.3C434.2 294.4 431.7 301.6 429.1 307.7C426.5 313.8 423.6 319.8 420.6 324.7C417.6 329.6 414.1 333.6 410.9 336.9C407.7 340.2 405.3 341.7 401.3 344.6C397.3 347.5 391.1 351.7 386.7 354.3C382.3 356.9 378.6 358.6 375.0 360.5C371.4 362.4 368.6 364.6 364.8 366.0C361.0 367.4 356.8 368.8 352.4 369.2C347.9 369.6 343.5 369.1 338.1 368.3C332.8 367.6 325.7 366.3 320.3 364.7C314.9 363.1 310.8 361.3 306.0 358.5C301.2 355.7 296.2 351.7 291.7 347.8C287.2 343.9 283.1 339.8 279.2 335.3C275.3 330.8 271.8 325.8 268.5 321.0C265.2 316.2 262.0 311.6 259.6 306.8C257.2 302.1 255.8 297.1 254.3 292.5C252.8 287.9 251.8 285.4 250.5 279.0C249.2 272.6 247.1 261.7 246.7 254.3C246.3 247.0 247.1 242.1 247.9 234.9C248.7 227.7 249.5 218.1 251.5 211.3C253.5 204.5 256.6 200.0 260.0 194.3C263.4 188.6 267.9 182.4 272.2 177.3C276.4 172.2 283.3 166.2 285.5 164.0" fill="none" stroke="#000" stroke-width="6.8" stroke-linejoin="round" stroke-linecap="butt" /><path d="M413.4 102.0C417.8 104.1 420.5 105.3 424.3 106.9C428.1 108.5 432.3 109.7 436.4 111.7C440.4 113.7 444.6 116.0 448.6 119.0C452.7 122.0 456.6 126.5 460.7 129.9C464.8 133.3 469.2 135.8 472.9 139.7C476.5 143.5 479.4 147.9 482.6 153.0C485.8 158.1 489.5 164.3 492.3 170.0C495.1 175.7 497.8 180.9 499.6 187.0C501.4 193.1 502.2 199.2 503.2 206.4C504.2 213.6 505.1 222.8 505.7 230.0C506.3 237.2 506.9 242.9 506.9 249.4C506.9 255.9 506.5 262.0 505.7 268.9C504.9 275.8 503.4 283.4 502.0 290.7C500.6 298.0 498.8 306.1 497.2 312.6C495.6 319.2 494.7 324.7 492.5 330.0C490.3 335.3 486.6 339.7 484.0 344.6C481.4 349.5 478.7 353.9 476.7 359.2C474.7 364.5 474.3 370.9 471.9 376.2C469.5 381.5 465.8 385.9 462.1 390.8C458.5 395.7 454.1 400.5 450.0 405.4C445.9 410.3 441.9 415.1 437.8 420.0C433.8 424.9 430.1 430.2 425.7 434.6C421.2 439.1 416.4 443.3 411.1 446.7C405.8 450.1 399.3 453.2 394.0 455.2C388.7 457.2 383.8 457.5 379.5 458.9C375.2 460.3 371.5 461.8 368.0 463.5C364.5 465.2 362.5 468.1 358.7 469.3C354.9 470.6 350.6 470.7 345.0 471.0C339.4 471.3 330.6 471.3 325.4 471.0C320.2 470.7 316.9 470.3 314.0 469.0C311.1 467.7 310.1 465.2 308.0 463.0C305.9 460.8 304.5 457.9 301.6 455.6C298.8 453.3 294.8 451.0 290.9 449.4C287.0 447.8 282.6 446.9 278.5 445.8C274.4 444.8 269.3 444.4 266.0 443.1C262.7 441.8 260.9 440.8 258.8 437.8C256.7 434.8 255.6 428.9 253.5 425.3C251.4 421.7 249.4 419.7 246.4 416.4C243.4 413.1 239.0 409.3 235.7 405.7C232.4 402.1 229.4 398.9 226.7 395.0C224.0 391.1 222.1 387.7 219.6 382.5C217.1 377.3 214.0 369.2 211.4 363.6C208.8 358.0 206.5 353.9 204.1 349.0C201.7 344.1 199.3 340.1 196.9 334.4C194.5 328.7 191.4 321.9 189.6 315.0C187.8 308.1 186.9 300.1 185.9 293.2C184.9 286.3 184.3 281.0 183.5 273.7C182.7 266.4 181.5 255.9 181.1 249.4C180.7 242.9 180.8 239.6 181.0 234.9C181.2 230.2 181.5 226.2 182.3 221.0C183.1 215.8 184.8 207.5 185.9 204.0C187.0 200.5 187.3 203.3 189.0 200.0C190.7 196.7 193.2 189.7 196.0 184.0C198.8 178.3 202.0 172.3 206.0 166.0C210.0 159.7 214.8 152.0 220.0 146.0C225.2 140.0 230.7 135.1 237.0 130.0C243.3 124.9 250.9 119.3 257.6 115.4C264.3 111.5 269.8 109.5 277.0 106.4C284.2 103.3 293.3 99.3 301.0 96.7C308.7 94.1 315.2 92.2 323.0 90.8C330.8 89.4 339.8 88.6 348.0 88.5C356.2 88.4 363.7 89.0 372.0 90.0C380.3 91.0 390.7 92.5 397.6 94.5C404.5 96.5 408.9 99.9 413.4 102.0Z" fill="none" stroke="#ff0000" stroke-width="3.2" stroke-linejoin="round" stroke-linecap="butt" stroke-dasharray="23.000 25.583" stroke-dashoffset="18.71"/><path d="M410.9 164.0C414.9 166.8 420.4 171.1 424.3 174.9C428.2 178.7 431.4 182.6 434.0 187.0C436.6 191.4 438.5 196.7 440.1 201.6C441.7 206.5 442.9 211.5 443.7 216.2C444.5 220.9 444.5 224.5 444.9 230.0C445.3 235.5 446.5 242.5 446.1 249.4C445.7 256.3 444.1 264.8 442.5 271.3C440.9 277.8 438.6 282.2 436.4 288.3C434.2 294.4 431.7 301.6 429.1 307.7C426.5 313.8 423.6 319.8 420.6 324.7C417.6 329.6 414.1 333.6 410.9 336.9C407.7 340.2 405.3 341.7 401.3 344.6C397.3 347.5 391.1 351.7 386.7 354.3C382.3 356.9 378.6 358.6 375.0 360.5C371.4 362.4 368.6 364.6 364.8 366.0C361.0 367.4 356.8 368.8 352.4 369.2C347.9 369.6 343.5 369.1 338.1 368.3C332.8 367.6 325.7 366.3 320.3 364.7C314.9 363.1 310.8 361.3 306.0 358.5C301.2 355.7 296.2 351.7 291.7 347.8C287.2 343.9 283.1 339.8 279.2 335.3C275.3 330.8 271.8 325.8 268.5 321.0C265.2 316.2 262.0 311.6 259.6 306.8C257.2 302.1 255.8 297.1 254.3 292.5C252.8 287.9 251.8 285.4 250.5 279.0C249.2 272.6 247.1 261.7 246.7 254.3C246.3 247.0 247.3 239.2 247.9 234.9C248.5 230.6 249.1 233.1 250.3 228.3C251.5 223.6 252.0 213.7 255.2 206.4C258.4 199.1 264.6 191.1 269.7 184.6C274.8 178.1 279.3 172.6 285.5 167.6C291.7 162.6 301.0 157.7 307.0 154.6C313.0 151.5 314.1 150.6 321.6 149.0C329.1 147.4 342.8 145.0 352.0 145.0C361.2 145.0 369.0 146.8 377.0 149.0C385.0 151.2 394.4 155.4 400.0 157.9C405.6 160.4 406.8 161.2 410.9 164.0Z" fill="none" stroke="#ff0000" stroke-width="3.2" stroke-linejoin="round" stroke-linecap="butt" stroke-dasharray="23.000 24.554" stroke-dashoffset="13.84"/><text paint-order="stroke" stroke="#fff" stroke-opacity="0.7" stroke-width="1.85" transform="matrix(1.3000 0 0 1.0120 320.10 101.50)" font-family="Liberation Serif" font-weight="bold" font-size="38" >2</text><text paint-order="stroke" stroke="#fff" stroke-opacity="0.7" stroke-width="1.89" transform="matrix(1.2700 0 0 0.9143 344.53 101.50)" font-family="Liberation Serif" font-weight="bold" font-style="italic" font-size="38" >σ</text><text paint-order="stroke" stroke="#fff" stroke-opacity="0.7" stroke-width="1.90" transform="matrix(1.2643 0 0 1.0160 321.21 156.20)" font-family="Liberation Serif" font-weight="bold" font-size="38" >1</text><text paint-order="stroke" stroke="#fff" stroke-opacity="0.7" stroke-width="1.89" transform="matrix(1.2700 0 0 0.9190 344.53 156.20)" font-family="Liberation Serif" font-weight="bold" font-style="italic" font-size="38" >σ</text><path d="M350.50 60.70L353.00 60.72L355.50 60.79L357.99 60.90L360.49 61.05L362.98 61.24L365.47 61.48L367.96 61.77L370.44 62.09L372.92 62.46L375.39 62.87L377.85 63.33L380.31 63.82L382.76 64.36L385.20 64.95L387.64 65.57L390.06 66.24L392.48 66.95L394.88 67.70L397.28 68.50L399.66 69.33L402.03 70.21L404.39 71.13L406.73 72.09L409.06 73.09L411.38 74.13L413.68 75.21L415.96 76.33L418.23 77.49L420.48 78.68L422.72 79.92L424.93 81.20L427.13 82.51L429.31 83.87L431.47 85.26L433.61 86.69L435.73 88.15L437.82 89.66L439.90 91.20L441.95 92.77L443.98 94.38L445.99 96.03L447.98 97.71L449.94 99.42L451.87 101.17L453.78 102.95L455.67 104.77L457.52 106.61L459.36 108.49L461.16 110.40L462.94 112.35L464.69 114.32L466.41 116.32L468.10 118.36L469.77 120.42L471.40 122.51L473.00 124.63L474.58 126.78L476.12 128.95L477.63 131.15L479.11 133.38L480.56 135.63L481.98 137.91L483.36 140.21L484.71 142.54L486.03 144.88L487.31 147.26L488.56 149.65L489.77 152.06L490.95 154.50L492.10 156.96L493.21 159.43L494.29 161.93L495.33 164.44L496.33 166.97L497.30 169.52L498.23 172.08L499.12 174.66L499.98 177.26L500.80 179.87L501.59 182.49L502.33 185.13L503.04 187.78L503.71 190.44L504.34 193.12L504.94 195.80L505.49 198.50L506.01 201.20L506.49 203.91L506.93 206.63L507.33 209.36L507.70 212.09L508.02 214.83L508.30 217.58L508.55 220.33L508.76 223.08L508.92 225.84L509.05 228.60L509.14 231.36L509.19 234.13L509.20 236.89L509.17 239.65L509.10 242.42L508.99 245.18L508.84 247.94L508.66 250.69L508.43 253.44L508.17 256.19L507.86 258.94L507.52 261.67L507.14 264.40L506.72 267.13L506.26 269.85L505.76 272.55L505.22 275.25L504.65 277.94L504.03 280.62L503.38 283.29L502.69 285.95L501.96 288.59L501.20 291.22L500.40 293.84L499.56 296.44L498.68 299.03L497.77 301.60L496.82 304.16L495.83 306.70L494.81 309.22L493.75 311.72L492.66 314.21L491.53 316.67L490.37 319.12L489.17 321.55L487.94 323.95L486.67 326.33L485.37 328.69L484.04 331.03L482.67 333.34L481.27 335.63L479.84 337.90L478.37 340.14L476.88 342.35L475.35 344.54L473.79 346.70L472.21 348.83L470.59 350.94L468.94 353.01L467.26 355.06L465.55 357.08L463.82 359.07L462.05 361.03L460.26 362.95L458.44 364.85L456.60 366.71L454.73 368.55L452.83 370.34L450.91 372.11L448.96 373.84L446.99 375.54L444.99 377.20L442.97 378.83L440.93 380.42L438.86 381.98L436.78 383.50L434.67 384.98L432.54 386.43L430.39 387.84L428.22 389.21L426.03 390.55L423.83 391.84L421.60 393.10L419.36 394.32L417.10 395.50L414.82 396.64L412.53 397.74L410.22 398.80L407.90 399.82L405.56 400.80L403.21 401.74L400.85 402.63L398.47 403.49L396.08 404.31L393.68 405.08L391.27 405.81L388.85 406.50L386.42 407.14L383.98 407.75L381.54 408.31L379.08 408.83L376.62 409.31L374.15 409.74L371.68 410.13L369.20 410.48L366.72 410.78L364.23 411.04L361.74 411.26L359.24 411.43L356.75 411.56L354.25 411.65L351.75 411.69L349.25 411.69L346.75 411.65L344.25 411.56L341.76 411.43L339.26 411.26L336.77 411.04L334.28 410.78L331.80 410.48L329.32 410.13L326.85 409.74L324.38 409.31L321.92 408.83L319.46 408.31L317.02 407.75L314.58 407.14L312.15 406.50L309.73 405.81L307.32 405.08L304.92 404.31L302.53 403.49L300.15 402.63L297.79 401.74L295.44 400.80L293.10 399.82L290.78 398.80L288.47 397.74L286.18 396.64L283.90 395.50L281.64 394.32L279.40 393.10L277.17 391.84L274.97 390.55L272.78 389.21L270.61 387.84L268.46 386.43L266.33 384.98L264.22 383.50L262.14 381.98L260.07 380.42L258.03 378.83L256.01 377.20L254.01 375.54L252.04 373.84L250.09 372.11L248.17 370.34L246.27 368.55L244.40 366.71L242.56 364.85L240.74 362.95L238.95 361.03L237.18 359.07L235.45 357.08L233.74 355.06L232.06 353.01L230.41 350.94L228.79 348.83L227.21 346.70L225.65 344.54L224.12 342.35L222.63 340.14L221.16 337.90L219.73 335.63L218.33 333.34L216.96 331.03L215.63 328.69L214.33 326.33L213.06 323.95L211.83 321.55L210.63 319.12L209.47 316.67L208.34 314.21L207.25 311.72L206.19 309.22L205.17 306.70L204.18 304.16L203.23 301.60L202.32 299.03L201.44 296.44L200.60 293.84L199.80 291.22L199.04 288.59L198.31 285.95L197.62 283.29L196.97 280.62L196.35 277.94L195.78 275.25L195.24 272.55L194.74 269.85L194.28 267.13L193.86 264.40L193.48 261.67L193.14 258.94L192.83 256.19L192.57 253.44L192.34 250.69L192.16 247.94L192.01 245.18L191.90 242.42L191.83 239.65L191.80 236.89L191.81 234.13L191.86 231.36L191.95 228.60L192.08 225.84L192.24 223.08L192.45 220.33L192.70 217.58L192.98 214.83L193.30 212.09L193.67 209.36L194.07 206.63L194.51 203.91L194.99 201.20L195.51 198.50L196.06 195.80L196.66 193.12L197.29 190.44L197.96 187.78L198.67 185.13L199.41 182.49L200.20 179.87L201.02 177.26L201.88 174.66L202.77 172.08L203.70 169.52L204.67 166.97L205.67 164.44L206.71 161.93L207.79 159.43L208.90 156.96L210.05 154.50L211.23 152.06L212.44 149.65L213.69 147.26L214.97 144.88L216.29 142.54L217.64 140.21L219.02 137.91L220.44 135.63L221.89 133.38L223.37 131.15L224.88 128.95L226.42 126.78L228.00 124.63L229.60 122.51L231.23 120.42L232.90 118.36L234.59 116.32L236.31 114.32L238.06 112.35L239.84 110.40L241.64 108.49L243.48 106.61L245.33 104.77L247.22 102.95L249.13 101.17L251.06 99.42L253.02 97.71L255.01 96.03L257.02 94.38L259.05 92.77L261.10 91.20L263.18 89.66L265.27 88.15L267.39 86.69L269.53 85.26L271.69 83.87L273.87 82.51L276.07 81.20L278.28 79.92L280.52 78.68L282.77 77.49L285.04 76.33L287.32 75.21L289.62 74.13L291.94 73.09L294.27 72.09L296.61 71.13L298.97 70.21L301.34 69.33L303.72 68.50L306.12 67.70L308.52 66.95L310.94 66.24L313.36 65.57L315.80 64.95L318.24 64.36L320.69 63.82L323.15 63.33L325.61 62.87L328.08 62.46L330.56 62.09L333.04 61.77L335.53 61.48L338.02 61.24L340.51 61.05L343.01 60.90L345.50 60.79L348.00 60.72L350.50 60.70Z" fill="none" stroke="#0000ff" stroke-width="6.6" stroke-linejoin="round" stroke-linecap="butt" stroke-dasharray="4.000 12.163" stroke-dashoffset="15.66"/><path d="M351.30 128.10L352.81 128.11L354.32 128.15L355.83 128.22L357.34 128.31L358.84 128.43L360.35 128.58L361.85 128.75L363.35 128.95L364.85 129.18L366.34 129.43L367.83 129.71L369.31 130.02L370.80 130.35L372.27 130.71L373.74 131.09L375.21 131.50L376.67 131.94L378.12 132.40L379.57 132.88L381.01 133.40L382.44 133.94L383.86 134.50L385.28 135.09L386.69 135.70L388.09 136.34L389.48 137.00L390.86 137.69L392.23 138.40L393.59 139.14L394.94 139.90L396.28 140.68L397.61 141.49L398.92 142.32L400.23 143.17L401.52 144.05L402.80 144.95L404.07 145.87L405.32 146.81L406.56 147.78L407.79 148.77L409.00 149.78L410.20 150.81L411.39 151.86L412.56 152.93L413.71 154.03L414.85 155.14L415.97 156.28L417.08 157.43L418.17 158.60L419.24 159.79L420.30 161.01L421.34 162.24L422.37 163.48L423.37 164.75L424.36 166.03L425.33 167.33L426.28 168.65L427.21 169.98L428.12 171.33L429.02 172.70L429.89 174.08L430.75 175.48L431.58 176.89L432.40 178.32L433.20 179.76L433.97 181.22L434.73 182.69L435.46 184.17L436.17 185.66L436.87 187.17L437.54 188.69L438.19 190.22L438.82 191.76L439.42 193.32L440.01 194.88L440.57 196.45L441.11 198.04L441.63 199.63L442.13 201.23L442.60 202.84L443.05 204.46L443.48 206.09L443.88 207.72L444.27 209.36L444.62 211.01L444.96 212.66L445.27 214.32L445.56 215.99L445.83 217.66L446.07 219.33L446.29 221.01L446.49 222.69L446.66 224.37L446.81 226.06L446.93 227.75L447.03 229.44L447.11 231.14L447.16 232.83L447.19 234.53L447.20 236.22L447.18 237.92L447.14 239.62L447.07 241.31L446.99 243.00L446.87 244.69L446.74 246.38L446.58 248.07L446.39 249.75L446.18 251.43L445.95 253.11L445.70 254.78L445.42 256.45L445.12 258.11L444.80 259.77L444.45 261.42L444.08 263.06L443.68 264.70L443.27 266.33L442.83 267.95L442.37 269.56L441.88 271.17L441.37 272.77L440.84 274.36L440.29 275.94L439.72 277.50L439.12 279.06L438.51 280.61L437.87 282.15L437.21 283.67L436.52 285.19L435.82 286.69L435.10 288.17L434.35 289.65L433.59 291.11L432.80 292.56L431.99 293.99L431.17 295.41L430.32 296.82L429.46 298.21L428.57 299.58L427.67 300.94L426.75 302.28L425.80 303.61L424.84 304.92L423.87 306.21L422.87 307.49L421.86 308.74L420.82 309.98L419.78 311.20L418.71 312.40L417.63 313.59L416.53 314.75L415.41 315.89L414.28 317.02L413.14 318.12L411.97 319.20L410.80 320.27L409.61 321.31L408.40 322.33L407.18 323.33L405.94 324.31L404.70 325.26L403.44 326.19L402.16 327.10L400.88 327.99L399.58 328.86L398.27 329.70L396.94 330.52L395.61 331.31L394.26 332.09L392.91 332.83L391.54 333.56L390.17 334.26L388.78 334.93L387.39 335.58L385.98 336.21L384.57 336.81L383.15 337.39L381.72 337.94L380.29 338.46L378.84 338.96L377.39 339.44L375.94 339.88L374.48 340.31L373.01 340.70L371.53 341.08L370.06 341.42L368.57 341.74L367.08 342.03L365.59 342.30L364.10 342.54L362.60 342.75L361.10 342.94L359.60 343.10L358.09 343.23L356.58 343.34L355.07 343.42L353.57 343.47L352.06 343.50L350.54 343.50L349.03 343.47L347.53 343.42L346.02 343.34L344.51 343.23L343.00 343.10L341.50 342.94L340.00 342.75L338.50 342.54L337.01 342.30L335.52 342.03L334.03 341.74L332.54 341.42L331.07 341.08L329.59 340.70L328.12 340.31L326.66 339.88L325.21 339.44L323.76 338.96L322.31 338.46L320.88 337.94L319.45 337.39L318.03 336.81L316.62 336.21L315.21 335.58L313.82 334.93L312.43 334.26L311.06 333.56L309.69 332.83L308.34 332.09L306.99 331.31L305.66 330.52L304.33 329.70L303.02 328.86L301.72 327.99L300.44 327.10L299.16 326.19L297.90 325.26L296.66 324.31L295.42 323.33L294.20 322.33L292.99 321.31L291.80 320.27L290.63 319.20L289.46 318.12L288.32 317.02L287.19 315.89L286.07 314.75L284.97 313.59L283.89 312.40L282.82 311.20L281.78 309.98L280.74 308.74L279.73 307.49L278.73 306.21L277.76 304.92L276.80 303.61L275.85 302.28L274.93 300.94L274.03 299.58L273.14 298.21L272.28 296.82L271.43 295.41L270.61 293.99L269.80 292.56L269.01 291.11L268.25 289.65L267.50 288.17L266.78 286.69L266.08 285.19L265.39 283.67L264.73 282.15L264.09 280.61L263.48 279.06L262.88 277.50L262.31 275.94L261.76 274.36L261.23 272.77L260.72 271.17L260.23 269.56L259.77 267.95L259.33 266.33L258.92 264.70L258.52 263.06L258.15 261.42L257.80 259.77L257.48 258.11L257.18 256.45L256.90 254.78L256.65 253.11L256.42 251.43L256.21 249.75L256.02 248.07L255.86 246.38L255.73 244.69L255.61 243.00L255.53 241.31L255.46 239.62L255.42 237.92L255.40 236.22L255.41 234.53L255.44 232.83L255.49 231.14L255.57 229.44L255.67 227.75L255.79 226.06L255.94 224.37L256.11 222.69L256.31 221.01L256.53 219.33L256.77 217.66L257.04 215.99L257.33 214.32L257.64 212.66L257.98 211.01L258.33 209.36L258.72 207.72L259.12 206.09L259.55 204.46L260.00 202.84L260.47 201.23L260.97 199.63L261.49 198.04L262.03 196.45L262.59 194.88L263.18 193.32L263.78 191.76L264.41 190.22L265.06 188.69L265.73 187.17L266.43 185.66L267.14 184.17L267.87 182.69L268.63 181.22L269.40 179.76L270.20 178.32L271.02 176.89L271.85 175.48L272.71 174.08L273.58 172.70L274.48 171.33L275.39 169.98L276.32 168.65L277.27 167.33L278.24 166.03L279.23 164.75L280.23 163.48L281.26 162.24L282.30 161.01L283.36 159.79L284.43 158.60L285.52 157.43L286.63 156.28L287.75 155.14L288.89 154.03L290.04 152.93L291.21 151.86L292.40 150.81L293.60 149.78L294.81 148.77L296.04 147.78L297.28 146.81L298.53 145.87L299.80 144.95L301.08 144.05L302.37 143.17L303.68 142.32L304.99 141.49L306.32 140.68L307.66 139.90L309.01 139.14L310.37 138.40L311.74 137.69L313.12 137.00L314.51 136.34L315.91 135.70L317.32 135.09L318.74 134.50L320.16 133.94L321.59 133.40L323.03 132.88L324.48 132.40L325.93 131.94L327.39 131.50L328.86 131.09L330.33 130.71L331.80 130.35L333.29 130.02L334.77 129.71L336.26 129.43L337.75 129.18L339.25 128.95L340.75 128.75L342.25 128.58L343.76 128.43L345.26 128.31L346.77 128.22L348.28 128.15L349.79 128.11L351.30 128.10Z" fill="none" stroke="#0000ff" stroke-width="6.6" stroke-linejoin="round" stroke-linecap="butt" stroke-dasharray="4.000 12.004" stroke-dashoffset="5.02"/></g><g clip-path="url(#cb)"><path fill="#fbfefc" d="M941.5 35.2L943.5 35.7L945.5 36.9L947.2 39.3L947.8 41.3L952.7 79.3L957.6 179.3L956.3 223.3L950.9 263.3L943.1 299.3L930.8 333.3L916.5 369.3L904.8 395.3L901.2 401.3L881.5 424.4L865.5 436.1L855.5 442.6L847.5 446.8L825.5 456.6L811.5 461.6L767.5 468.9L701.5 476.1L649.5 477.2L619.5 472.6L618.6 465.3L619.5 459.4L643.5 448.2L693.5 432.9L753.0 417.3L794.9 405.3L809.5 400.3L827.5 395.0L845.5 384.0L856.3 371.3L894.3 281.3L900.6 249.3L907.5 217.3L922.4 99.3L926.0 75.3L930.5 55.3L934.7 39.3L937.5 36.2L941.5 35.2Z"/><path fill="#f8fdfa" d="M939.5 39.1L941.5 38.8L943.5 40.1L945.5 46.5L948.1 63.3L950.3 85.3L955.0 179.3L953.8 223.3L949.0 261.3L942.1 295.3L932.4 323.3L922.5 349.3L912.7 373.3L902.7 395.3L900.3 399.3L888.6 413.3L879.5 423.2L863.5 434.5L853.5 440.7L845.5 444.6L827.5 452.3L811.5 457.9L769.5 464.5L699.5 471.9L649.5 472.8L629.5 469.8L622.4 467.3L621.6 465.3L623.3 463.3L626.3 461.3L638.4 455.3L649.5 450.7L695.5 436.7L754.0 421.3L795.5 408.9L813.5 402.3L829.4 397.3L847.3 385.3L857.5 373.1L859.5 369.6L876.1 329.3L896.0 283.3L910.3 215.3L924.6 103.3L928.5 77.3L935.0 49.3L937.5 41.9L939.5 39.1Z"/><path fill="#f4fcf7" d="M939.5 52.0L941.5 52.2L943.5 57.4L944.3 61.3L947.0 81.3L948.7 103.3L952.5 181.3L951.8 219.3L950.5 233.3L946.9 261.3L940.2 295.3L928.3 329.3L912.6 369.3L900.7 395.3L898.1 399.3L878.7 421.3L865.5 430.6L849.5 440.1L829.5 448.3L811.5 454.3L771.5 460.3L701.5 467.3L661.5 467.7L651.5 467.1L644.2 465.3L641.9 463.3L642.7 461.3L645.1 459.3L653.1 455.3L664.0 451.3L699.5 440.2L754.7 425.3L797.5 411.9L811.5 406.2L829.5 400.0L847.5 387.9L859.7 373.3L876.3 333.3L898.0 283.3L912.6 215.3L926.8 107.3L930.5 83.3L935.5 61.5L937.5 55.6L939.5 52.0Z"/><path fill="#edfaf4" d="M939.5 68.9L941.5 71.4L942.4 75.3L945.4 95.3L948.6 143.3L950.3 177.3L949.9 221.3L946.4 253.3L942.7 275.3L938.1 297.3L928.3 325.3L918.4 351.3L910.3 371.3L900.1 393.3L897.8 397.3L877.5 420.2L865.5 428.5L847.5 438.7L833.5 444.3L815.5 450.3L807.5 452.2L779.5 456.0L713.5 462.0L699.5 462.7L681.5 462.2L673.6 461.3L669.5 459.4L669.9 457.3L672.7 455.3L686.8 449.3L713.5 440.6L755.5 428.9L773.5 422.5L797.5 415.1L813.5 408.0L829.5 402.2L848.3 389.3L861.3 373.3L878.6 331.3L899.6 283.3L914.1 217.3L928.7 111.3L932.0 91.3L935.5 76.4L937.5 71.0L939.5 68.9Z"/><path fill="#e7f8f1" d="M939.5 87.1L941.5 91.8L944.0 109.3L946.9 147.3L948.6 181.3L948.4 221.3L944.5 257.3L938.8 289.3L936.8 297.3L918.8 347.3L909.0 371.3L897.8 395.3L894.9 399.3L882.3 413.3L876.6 419.3L873.5 421.7L859.5 430.5L847.5 436.9L821.5 446.1L805.5 449.8L773.5 453.4L725.5 456.5L711.5 456.5L702.9 455.3L701.1 453.3L702.9 451.3L710.4 447.3L726.9 441.3L755.5 432.8L773.5 425.8L797.5 417.8L813.5 410.3L831.1 403.3L849.5 390.0L861.5 375.1L880.6 329.3L900.7 283.3L915.7 217.3L926.6 141.3L933.1 101.3L935.7 91.3L937.5 87.5L939.5 87.1Z"/><path fill="#e0f5f0" d="M937.5 104.3L939.5 105.8L941.9 117.3L944.9 147.3L947.0 185.3L947.0 221.3L942.9 259.3L936.9 293.3L934.4 301.3L926.8 323.3L916.2 351.3L908.9 369.3L896.7 395.3L883.5 410.5L873.5 420.3L861.5 427.8L849.5 434.3L833.5 440.4L821.5 444.1L811.5 446.4L785.5 449.4L771.5 450.2L747.5 450.0L737.5 449.3L735.5 448.2L734.7 447.3L736.4 445.3L740.0 443.3L757.5 436.6L772.9 429.3L799.5 419.7L813.5 412.4L831.5 405.0L849.9 391.3L862.5 375.3L880.8 331.3L901.8 283.3L917.1 217.3L929.5 136.3L933.5 115.2L935.5 108.0L937.5 104.3Z"/><path fill="#d9f2ef" d="M937.5 123.0L939.5 127.3L942.3 143.3L944.0 161.3L945.6 191.3L945.7 221.3L942.1 257.3L936.7 289.3L934.8 297.3L916.9 347.3L908.0 369.3L896.9 393.3L894.2 397.3L888.9 403.3L873.5 419.1L857.5 428.7L845.5 434.6L823.5 441.6L809.5 444.4L791.5 445.9L779.5 446.3L771.5 445.9L765.5 444.4L763.6 443.3L763.2 441.3L764.3 439.3L769.4 435.3L781.6 429.3L799.5 422.5L813.5 414.4L831.5 406.6L851.2 391.3L863.7 375.3L880.9 333.3L902.8 283.3L918.4 217.3L931.5 138.5L935.5 125.1L937.5 123.0Z"/><path fill="#d3eeef" d="M935.5 139.0L937.5 138.7L939.5 143.7L940.2 147.3L942.0 161.3L944.2 191.3L944.6 221.3L940.5 261.3L935.1 293.3L932.6 301.3L916.1 347.3L906.3 371.3L896.0 393.3L893.2 397.3L887.8 403.3L873.5 417.9L859.5 426.4L847.5 432.4L829.5 438.3L813.5 441.7L791.5 442.5L780.4 441.3L777.7 439.3L778.0 437.3L782.7 433.3L790.4 429.3L799.5 425.5L805.2 421.3L813.5 416.3L831.5 408.0L850.6 393.3L864.4 375.3L882.5 331.3L903.5 284.0L914.5 237.3L919.7 217.3L922.8 197.3L926.9 177.3L931.0 153.3L933.5 143.2L935.5 139.0Z"/><path fill="#cdeaef" d="M935.5 152.5L937.5 153.6L939.8 163.3L942.7 191.3L943.4 213.3L943.2 225.3L941.1 249.3L936.8 279.3L934.3 293.3L924.3 323.3L916.1 345.3L906.5 369.3L896.2 391.3L892.3 397.3L873.5 416.8L861.5 424.2L849.5 430.2L833.5 435.6L817.5 439.1L807.5 439.4L794.4 437.3L792.7 435.3L793.8 433.3L801.5 428.0L806.3 423.3L815.4 417.3L831.8 409.3L851.5 393.7L865.2 375.3L882.4 333.3L903.9 285.3L914.5 241.3L920.8 217.3L924.6 195.3L928.4 179.3L931.5 163.0L933.5 156.0L935.5 152.5Z"/><path fill="#c8e4f0" d="M935.5 166.8L937.5 170.0L940.7 187.3L941.8 201.3L942.3 219.3L939.3 257.3L934.3 289.3L933.0 295.3L928.4 309.3L916.2 343.3L906.7 367.3L896.5 389.3L894.5 393.3L891.5 397.1L873.5 415.7L869.5 418.6L859.5 424.3L845.5 430.6L829.5 435.1L815.5 437.1L811.5 436.9L807.5 435.9L806.2 435.3L804.5 433.3L804.2 431.3L804.9 429.3L807.8 425.3L812.6 421.3L818.8 417.3L833.5 409.7L840.5 403.3L851.5 394.7L865.5 376.2L882.2 335.3L904.7 285.3L916.5 237.3L922.0 217.3L927.5 189.2L933.5 169.3L935.5 166.8Z"/><path fill="#c5dff2" d="M933.5 181.0L935.5 180.6L937.5 183.3L939.0 189.3L940.4 201.3L941.2 219.3L940.4 235.3L938.4 257.3L933.2 291.3L926.4 313.3L914.9 345.3L905.1 369.3L894.8 391.3L890.6 397.3L872.9 415.3L869.5 417.7L857.5 424.3L845.5 429.4L829.5 433.5L817.5 434.6L811.5 433.3L809.6 431.3L809.5 429.3L811.8 425.3L819.0 419.3L833.5 411.3L841.9 403.3L852.0 395.3L865.6 377.3L884.6 331.3L905.5 285.3L916.9 239.3L923.2 217.3L927.7 195.3L930.9 185.3L933.5 181.0Z"/><path fill="#c2d7f3" d="M933.5 188.2L935.5 188.6L937.5 193.3L939.2 205.3L940.0 221.3L937.8 255.3L932.6 291.3L924.4 317.3L914.3 345.3L904.6 369.3L894.2 391.3L891.5 395.3L887.5 399.7L871.8 415.3L859.5 422.3L847.5 427.6L835.5 430.7L825.5 432.1L821.5 432.1L817.1 431.3L814.9 429.3L814.9 427.3L817.6 423.3L822.4 419.3L833.5 412.8L841.0 405.3L853.1 395.3L866.2 377.3L884.3 333.3L906.1 285.3L917.9 239.3L924.4 217.3L927.5 202.5L931.5 190.8L933.5 188.2Z"/><path fill="#c1cff3" d="M933.5 195.9L935.5 197.4L937.5 205.3L938.7 219.3L938.8 227.3L936.8 257.3L932.0 291.3L924.5 315.3L914.5 343.3L904.9 367.3L896.5 385.3L893.6 391.3L890.9 395.3L877.5 409.1L869.5 416.1L857.5 422.4L845.5 427.0L833.5 429.4L827.5 429.8L823.0 429.3L820.3 427.3L820.4 425.3L821.5 423.3L825.8 419.3L833.5 414.4L842.3 405.3L853.5 395.9L866.9 377.3L884.9 333.3L906.7 285.3L918.8 239.3L925.7 217.3L929.2 203.3L931.5 197.8L933.5 195.9Z"/><path fill="#c2c5f3" d="M931.5 205.1L933.5 203.9L935.5 207.3L937.3 219.3L937.6 229.3L935.8 259.3L931.3 291.3L926.5 307.3L918.3 331.3L912.4 347.3L902.5 371.3L891.8 393.3L879.5 406.3L869.5 415.3L859.5 420.5L847.5 425.3L835.5 427.3L829.7 427.3L827.5 426.6L825.9 425.3L826.0 423.3L827.3 421.3L835.5 414.6L841.6 407.3L853.5 396.9L867.5 377.3L884.6 335.3L907.4 285.3L912.4 265.3L921.5 233.3L926.5 219.3L929.5 209.2L931.5 205.1Z"/><path fill="#c4bcf1" d="M931.5 212.6L933.5 212.7L935.5 219.0L936.4 233.3L934.8 261.3L930.8 291.3L918.5 329.3L912.7 345.3L902.9 369.3L891.1 393.3L881.5 403.5L871.0 413.3L861.5 418.7L849.5 423.6L841.5 425.0L833.5 424.5L831.5 423.3L831.7 421.3L835.5 417.2L841.0 409.3L854.0 397.3L868.0 377.3L886.0 333.3L907.5 286.6L921.5 236.7L925.5 225.3L931.5 212.6Z"/><path fill="#c7b2ed" d="M931.5 220.0L933.5 221.3L934.5 225.3L935.3 239.3L934.1 261.3L930.2 291.3L918.7 327.3L912.2 345.3L902.4 369.3L890.5 393.3L881.5 402.8L871.5 412.0L865.5 415.9L851.5 421.9L843.5 423.5L839.5 422.8L837.4 421.3L837.0 419.3L839.4 413.3L844.2 407.3L854.9 397.3L868.5 377.3L886.4 333.3L907.8 287.3L915.1 261.3L923.5 234.1L927.5 224.6L929.5 221.5L931.5 220.0Z"/><path fill="#cba8e5" d="M929.5 226.0L931.5 225.6L933.5 230.4L934.1 243.3L932.9 265.3L929.6 291.3L918.9 325.3L912.4 343.3L902.9 367.3L891.4 391.3L885.5 398.0L873.5 409.5L867.5 414.1L855.5 419.5L847.5 421.7L843.5 421.9L841.5 421.4L839.6 419.3L839.5 418.6L839.9 415.3L840.9 413.3L845.5 407.3L855.5 397.6L869.0 377.3L886.1 335.3L908.4 287.3L921.5 243.4L925.5 232.6L927.5 228.6L929.5 226.0Z"/><path fill="#cf9ddb" d="M929.5 231.0L931.5 232.3L932.2 235.3L932.9 249.3L932.0 267.3L929.0 291.3L918.4 325.3L911.2 345.3L902.4 367.3L890.8 391.3L887.5 395.3L875.5 406.9L867.5 413.4L857.5 417.8L849.5 420.1L845.5 420.3L843.5 419.8L842.7 419.3L841.6 417.3L841.8 415.3L843.6 411.3L848.6 405.3L855.5 398.8L869.5 377.4L886.5 335.3L909.0 287.3L915.5 264.8L923.5 241.1L927.5 232.9L929.5 231.0Z"/><path fill="#d295d0" d="M929.5 236.7L931.5 242.8L931.8 257.3L930.9 271.3L928.5 291.3L916.5 329.3L910.8 345.3L901.0 369.3L890.3 391.3L885.5 396.7L875.5 406.2L867.5 412.6L861.5 415.4L851.5 418.5L847.5 418.8L845.5 418.2L844.3 417.3L843.8 415.3L845.2 411.3L849.8 405.3L855.9 399.3L869.5 378.6L887.0 335.3L909.7 287.3L916.8 263.3L923.5 244.8L927.5 237.4L929.5 236.7Z"/><path fill="#d48dc1" d="M927.5 242.5L929.5 243.9L929.8 245.3L930.7 259.3L930.0 273.3L927.9 291.3L922.7 309.3L914.7 333.3L910.3 345.3L900.6 369.3L889.8 391.3L877.5 403.7L869.5 410.4L863.5 413.7L853.5 417.0L849.5 417.2L847.5 416.6L846.2 415.3L846.1 413.3L847.9 409.3L856.7 399.3L862.7 389.3L869.7 379.3L888.3 333.3L910.3 287.3L915.5 269.6L919.5 258.2L923.5 248.5L925.5 244.6L927.5 242.5Z"/><path fill="#d486af" d="M925.5 249.1L927.5 248.4L927.9 249.3L929.1 253.3L929.7 259.3L929.3 273.3L927.3 291.3L916.3 327.3L910.7 343.3L901.0 367.3L889.5 390.9L881.5 399.3L871.5 408.0L865.5 412.0L855.5 415.4L850.0 415.3L848.3 413.3L849.5 409.3L857.5 399.3L862.1 391.3L870.1 379.3L887.9 335.3L910.9 287.3L919.5 260.8L925.5 249.1Z"/><path fill="#d2809c" d="M925.5 254.1L927.5 255.5L928.6 263.3L928.3 275.3L926.7 291.3L916.5 325.3L910.2 343.3L900.6 367.3L889.5 390.1L887.5 392.8L881.5 398.6L871.5 407.2L865.5 411.2L857.5 413.8L853.5 414.0L851.5 413.4L850.6 411.3L852.2 407.3L857.5 400.8L862.7 391.3L870.6 379.3L888.3 335.3L911.5 287.3L919.5 263.4L923.5 255.9L925.5 254.1Z"/><path fill="#cc7c86" d="M923.5 259.2L925.5 258.4L927.0 261.3L927.6 265.3L927.5 276.6L926.1 291.3L920.5 311.3L914.7 329.3L909.8 343.3L900.2 367.3L889.5 389.3L887.5 392.1L883.5 396.1L873.5 404.9L865.5 410.3L857.5 412.5L855.5 412.4L853.5 411.6L853.0 409.3L853.7 407.3L857.5 402.3L862.2 393.3L871.0 379.3L888.7 335.3L912.2 287.3L917.5 271.0L921.5 262.1L923.5 259.2Z"/><path fill="#c37a73" d="M923.5 262.9L925.5 263.6L926.5 269.3L926.5 279.3L925.5 291.3L920.0 311.3L914.3 329.3L908.6 345.3L899.8 367.3L889.0 389.3L885.8 393.3L875.5 402.6L867.5 408.3L863.5 410.1L857.5 410.8L855.4 409.3L855.5 407.3L862.8 393.3L871.5 379.3L879.9 357.3L889.2 335.3L903.5 305.4L912.9 287.3L919.5 268.9L921.5 265.1L923.5 262.9Z"/><path fill="#b77961" d="M923.5 267.1L925.4 271.3L925.7 275.3L925.1 289.3L923.9 295.3L917.7 317.3L912.5 333.3L908.2 345.3L899.5 367.0L888.5 389.3L885.5 393.0L877.5 400.2L869.5 406.2L865.5 408.3L859.5 409.3L857.6 407.3L861.4 397.3L871.5 380.3L880.3 357.3L890.5 333.3L905.5 302.5L913.6 287.3L919.5 271.7L921.5 268.4L923.5 267.1Z"/><path fill="#a7794f" d="M921.5 272.0L923.5 272.2L924.5 277.3L924.3 289.3L923.3 295.3L918.4 313.3L912.7 331.3L908.6 343.3L899.8 365.3L888.0 389.3L886.5 391.3L877.5 399.5L869.5 405.3L865.5 407.3L863.5 407.7L860.9 407.3L860.0 405.3L860.7 401.3L862.2 397.3L866.4 389.3L871.5 381.3L880.7 357.3L890.0 335.3L905.5 303.6L914.4 287.3L919.5 274.7L921.5 272.0Z"/><path fill="#967a42" d="M921.5 276.1L923.2 279.3L923.7 285.3L923.4 291.3L921.5 300.0L916.2 319.3L910.3 337.3L899.4 365.3L888.6 387.3L885.9 391.3L877.5 398.8L871.5 403.2L867.5 405.4L863.5 406.0L862.3 405.3L861.6 403.3L863.0 397.3L867.0 389.3L872.0 381.3L880.3 359.3L890.4 335.3L905.5 304.7L915.2 287.3L917.5 281.5L919.5 277.9L921.5 276.1Z"/><path fill="#817a37" d="M921.5 281.1L922.4 285.3L922.4 291.3L921.4 297.3L917.5 313.0L907.8 343.3L898.1 367.3L887.5 388.5L885.5 391.2L877.5 398.1L871.5 402.3L867.5 404.2L865.5 404.6L863.5 403.7L862.9 401.3L864.6 395.3L872.5 381.3L880.7 359.3L890.9 335.3L909.5 298.4L919.5 281.4L921.5 281.1Z"/><path fill="#6c7b31" d="M919.5 285.3L921.0 287.3L921.5 291.3L917.9 309.3L908.0 341.3L898.6 365.3L887.6 387.3L885.5 390.5L879.5 395.8L873.5 400.2L869.5 402.4L867.5 403.0L865.5 402.8L864.5 401.3L864.4 399.3L865.4 395.3L873.0 381.3L881.2 359.3L891.3 335.3L909.5 299.7L913.5 293.2L919.5 285.3Z"/><path fill="#577a2f" d="M917.5 290.3L919.5 290.2L920.0 293.3L919.5 299.3L917.3 309.3L914.1 321.3L907.6 341.3L898.2 365.3L885.5 389.8L879.5 395.1L873.5 399.4L869.5 401.2L867.1 401.3L865.6 399.3L867.1 393.3L873.5 381.3L881.6 359.3L890.8 337.3L907.5 304.5L913.5 294.7L917.5 290.3Z"/><path fill="#447731" d="M917.5 293.3L918.5 295.3L918.2 301.3L913.6 321.3L906.5 343.3L897.8 365.3L885.4 389.3L879.5 394.4L873.5 398.4L869.5 399.8L867.6 399.3L867.0 397.3L867.9 393.3L874.0 381.3L882.0 359.3L891.5 336.7L899.5 320.7L909.5 302.4L913.5 296.5L915.5 294.3L917.5 293.3Z"/><path fill="#337335" d="M915.5 296.8L916.4 297.3L917.2 299.3L917.2 301.3L915.6 311.3L913.6 319.3L906.1 343.3L897.4 365.3L884.7 389.3L875.5 396.4L871.5 398.1L869.5 398.0L868.8 397.3L868.5 395.3L869.5 391.3L874.5 381.3L882.4 359.3L891.7 337.3L907.5 307.1L911.5 300.9L915.5 296.8Z"/><path fill="#266c3c" d="M913.5 300.7L915.5 300.9L915.8 303.3L915.5 307.6L913.5 317.4L906.4 341.3L896.9 365.3L885.6 387.3L884.0 389.3L875.5 395.4L871.5 396.6L870.0 395.3L870.0 393.3L871.1 389.3L875.0 381.3L882.8 359.3L891.5 338.7L905.5 311.8L909.5 305.4L913.5 300.7Z"/><path fill="#1d6443" d="M911.5 304.8L913.5 303.8L914.3 307.3L913.7 313.3L912.3 319.3L905.9 341.3L897.3 363.3L884.9 387.3L883.5 389.1L879.5 392.1L873.5 394.9L871.5 393.8L871.4 391.3L875.5 381.3L883.5 358.6L892.6 337.3L897.5 327.6L907.5 310.0L911.5 304.8Z"/><path fill="#175a49" d="M909.5 309.1L911.5 307.5L912.7 309.3L912.7 313.3L911.5 320.1L905.5 341.3L896.0 365.3L883.5 388.2L877.5 392.3L875.5 393.1L873.5 393.0L872.8 391.3L873.5 387.3L875.5 382.9L883.7 359.3L891.5 340.8L901.5 321.4L909.5 309.1Z"/><path fill="#154d4e" d="M909.5 311.4L911.5 313.3L909.6 325.3L905.0 341.3L895.6 365.3L883.6 387.3L879.5 390.3L875.5 391.6L874.2 389.3L874.5 387.3L885.5 356.0L895.5 333.4L903.5 319.3L907.5 313.4L909.5 311.4Z"/><path fill="#16404e" d="M909.5 314.9L909.9 317.3L909.6 321.3L905.7 337.3L895.5 364.4L883.5 386.2L879.5 389.4L877.5 389.9L875.9 389.3L875.5 387.3L883.2 363.3L893.5 338.5L903.5 320.7L907.5 315.6L909.5 314.9Z"/><path fill="#17344c" d="M907.5 318.5L908.3 321.3L908.2 323.3L905.5 336.0L903.5 342.6L895.5 363.3L883.5 384.7L881.2 387.3L879.5 388.1L877.5 387.9L877.1 385.3L877.5 383.7L883.5 363.8L893.5 339.7L901.5 325.3L905.5 319.8L907.5 318.5Z"/><path fill="#1a2744" d="M905.5 322.4L906.4 323.3L906.7 325.3L905.5 333.5L903.4 341.3L895.5 361.9L885.5 380.0L881.5 385.5L879.5 386.4L878.7 385.3L879.4 379.3L885.5 359.6L895.5 336.7L901.5 326.8L905.5 322.4Z"/><path fill="#1b1b38" d="M903.5 326.5L905.0 327.3L905.2 329.3L903.5 338.8L895.5 360.4L893.5 365.1L887.5 375.3L883.5 381.1L881.5 382.9L880.7 381.3L881.4 375.3L885.5 361.0L895.5 338.0L899.5 331.4L903.5 326.5Z"/><path fill="#19122b" d="M901.5 330.7L903.5 330.6L903.4 335.3L901.5 343.0L897.5 353.6L893.8 363.3L891.5 367.4L887.5 373.7L883.5 378.2L882.8 377.3L882.9 373.3L886.1 361.3L895.5 339.5L899.5 333.0L901.5 330.7Z"/><path fill="#140a1b" d="M899.5 335.1L901.5 334.0L901.9 337.3L901.5 340.5L899.5 346.2L893.0 363.3L889.5 369.0L885.5 373.6L884.7 371.3L884.9 369.3L887.5 359.3L895.5 341.4L899.5 335.1Z"/><path fill="#0b040c" d="M899.5 337.9L900.1 339.3L899.5 343.2L893.5 359.8L891.5 364.3L887.5 369.0L886.8 367.3L886.9 365.3L887.7 361.3L897.5 339.9L899.5 337.9Z"/><path fill="#020102" d="M893.5 352.6L893.5 355.1L893.5 352.6ZM891.5 355.9L892.4 357.3L892.1 359.3L891.5 361.6L889.5 364.2L888.9 363.3L889.0 361.3L891.5 355.9Z"/><path d="M941.9 35.6C943.8 35.7 946.0 39.5 947.5 44.0C949.0 48.5 950.0 56.4 951.0 62.8C952.0 69.2 952.8 74.8 953.5 82.3C954.2 89.8 954.7 97.9 955.0 107.5C955.3 117.1 955.7 129.6 955.5 140.0C955.3 150.4 954.6 158.7 954.0 170.0C953.4 181.3 952.9 196.3 952.0 208.0C951.1 219.7 949.4 231.4 948.5 240.0C947.6 248.6 947.6 252.9 946.8 259.4C946.0 265.9 944.8 272.5 943.5 279.0C942.2 285.5 940.3 292.0 939.0 298.5C937.7 305.0 937.0 311.4 935.5 318.1C934.0 324.8 932.3 331.8 929.8 338.6C927.3 345.4 924.1 352.2 920.7 359.0C917.3 365.8 913.5 373.0 909.4 379.4C905.2 385.8 901.5 391.1 895.8 397.5C890.1 403.9 881.0 412.5 875.0 417.6C869.0 422.7 865.8 424.6 860.0 428.2C854.2 431.8 846.7 435.9 840.0 439.0C833.3 442.1 826.7 444.8 820.0 447.1C813.3 449.4 806.7 451.3 800.0 453.0C793.3 454.7 786.7 456.2 780.0 457.5C773.3 458.8 766.7 459.9 760.0 461.0C753.3 462.1 746.7 462.9 740.0 463.8C733.3 464.7 726.7 465.4 720.0 466.1C713.3 466.8 706.7 467.5 700.0 468.1C693.3 468.7 686.7 469.2 680.0 469.6C673.3 470.0 667.0 470.3 660.0 470.4C653.0 470.5 644.0 470.3 638.0 470.2C632.0 470.1 628.3 470.3 624.0 469.5C619.7 468.7 612.3 466.9 612.0 465.5C611.7 464.1 617.3 463.0 622.0 461.4C626.7 459.8 633.7 457.8 640.0 455.8C646.3 453.8 653.3 451.5 660.0 449.4C666.7 447.3 673.3 445.1 680.0 443.1C686.7 441.1 693.3 439.2 700.0 437.3C706.7 435.4 713.3 433.6 720.0 431.9C726.7 430.2 733.3 428.8 740.0 427.0C746.7 425.2 754.8 422.8 760.0 421.3C765.2 419.8 767.6 419.0 771.4 417.9C775.2 416.8 778.9 415.7 782.7 414.5C786.5 413.3 790.2 411.9 794.0 410.5C797.8 409.1 801.6 407.5 805.4 406.0C809.2 404.5 813.0 403.1 816.8 401.4C820.6 399.7 824.3 397.8 828.1 395.8C831.9 393.8 835.7 391.9 839.5 389.5C843.3 387.1 847.4 384.4 850.8 381.6C854.2 378.8 857.5 375.1 860.0 372.5C862.5 369.9 863.8 369.0 866.0 366.0C868.2 363.0 871.0 359.6 873.5 354.7C876.0 349.8 878.8 342.4 881.0 336.3C883.2 330.2 885.1 324.3 886.7 318.1C888.3 311.9 889.3 305.5 890.8 299.0C892.3 292.5 894.2 285.6 895.6 279.0C897.0 272.4 898.2 265.9 899.4 259.4C900.6 252.9 901.1 248.6 902.7 240.0C904.3 231.4 907.0 219.7 908.9 207.8C910.8 196.0 912.8 180.2 914.1 168.9C915.5 157.6 915.7 151.2 917.0 140.0C918.3 128.8 920.2 112.0 921.8 101.7C923.4 91.4 925.1 85.5 926.7 78.4C928.3 71.3 930.0 64.8 931.6 58.9C933.2 53.0 934.7 47.2 936.4 43.3C938.1 39.4 940.0 35.5 941.9 35.6Z" fill="none" stroke="#ffffff" stroke-opacity="0.85" stroke-width="9.8" stroke-linejoin="round" /><path d="M941.9 35.6C943.8 35.7 946.0 39.5 947.5 44.0C949.0 48.5 950.0 56.4 951.0 62.8C952.0 69.2 952.8 74.8 953.5 82.3C954.2 89.8 954.7 97.9 955.0 107.5C955.3 117.1 955.7 129.6 955.5 140.0C955.3 150.4 954.6 158.7 954.0 170.0C953.4 181.3 952.9 196.3 952.0 208.0C951.1 219.7 949.4 231.4 948.5 240.0C947.6 248.6 947.6 252.9 946.8 259.4C946.0 265.9 944.8 272.5 943.5 279.0C942.2 285.5 940.3 292.0 939.0 298.5C937.7 305.0 937.0 311.4 935.5 318.1C934.0 324.8 932.3 331.8 929.8 338.6C927.3 345.4 924.1 352.2 920.7 359.0C917.3 365.8 913.5 373.0 909.4 379.4C905.2 385.8 901.5 391.1 895.8 397.5C890.1 403.9 881.0 412.5 875.0 417.6C869.0 422.7 865.8 424.6 860.0 428.2C854.2 431.8 846.7 435.9 840.0 439.0C833.3 442.1 826.7 444.8 820.0 447.1C813.3 449.4 806.7 451.3 800.0 453.0C793.3 454.7 786.7 456.2 780.0 457.5C773.3 458.8 766.7 459.9 760.0 461.0C753.3 462.1 746.7 462.9 740.0 463.8C733.3 464.7 726.7 465.4 720.0 466.1C713.3 466.8 706.7 467.5 700.0 468.1C693.3 468.7 686.7 469.2 680.0 469.6C673.3 470.0 667.0 470.3 660.0 470.4C653.0 470.5 644.0 470.3 638.0 470.2C632.0 470.1 628.3 470.3 624.0 469.5C619.7 468.7 612.3 466.9 612.0 465.5C611.7 464.1 617.3 463.0 622.0 461.4C626.7 459.8 633.7 457.8 640.0 455.8C646.3 453.8 653.3 451.5 660.0 449.4C666.7 447.3 673.3 445.1 680.0 443.1C686.7 441.1 693.3 439.2 700.0 437.3C706.7 435.4 713.3 433.6 720.0 431.9C726.7 430.2 733.3 428.8 740.0 427.0C746.7 425.2 754.8 422.8 760.0 421.3C765.2 419.8 767.6 419.0 771.4 417.9C775.2 416.8 778.9 415.7 782.7 414.5C786.5 413.3 790.2 411.9 794.0 410.5C797.8 409.1 801.6 407.5 805.4 406.0C809.2 404.5 813.0 403.1 816.8 401.4C820.6 399.7 824.3 397.8 828.1 395.8C831.9 393.8 835.7 391.9 839.5 389.5C843.3 387.1 847.4 384.4 850.8 381.6C854.2 378.8 857.5 375.1 860.0 372.5C862.5 369.9 863.8 369.0 866.0 366.0C868.2 363.0 871.0 359.6 873.5 354.7C876.0 349.8 878.8 342.4 881.0 336.3C883.2 330.2 885.1 324.3 886.7 318.1C888.3 311.9 889.3 305.5 890.8 299.0C892.3 292.5 894.2 285.6 895.6 279.0C897.0 272.4 898.2 265.9 899.4 259.4C900.6 252.9 901.1 248.6 902.7 240.0C904.3 231.4 907.0 219.7 908.9 207.8C910.8 196.0 912.8 180.2 914.1 168.9C915.5 157.6 915.7 151.2 917.0 140.0C918.3 128.8 920.2 112.0 921.8 101.7C923.4 91.4 925.1 85.5 926.7 78.4C928.3 71.3 930.0 64.8 931.6 58.9C933.2 53.0 934.7 47.2 936.4 43.3C938.1 39.4 940.0 35.5 941.9 35.6Z" fill="none" stroke="#000" stroke-width="6.8" stroke-linejoin="round" stroke-linecap="butt" /><path d="M911.5 71.5C910.4 71.6 909.2 73.9 908.5 76.0C907.8 78.1 907.4 79.1 907.0 84.0C906.6 88.9 906.2 98.1 906.2 105.6C906.2 113.1 906.8 120.6 907.2 129.0C907.7 137.4 908.5 148.0 908.9 156.0C909.3 164.0 909.3 169.2 909.5 177.0C909.7 184.8 910.1 194.8 910.2 203.0C910.3 211.2 910.2 217.9 910.2 226.0C910.2 234.1 910.7 243.6 910.5 251.7C910.3 259.8 910.0 266.4 909.2 274.4C908.5 282.4 907.3 291.7 906.0 299.6C904.7 307.5 903.8 313.8 901.5 321.6C899.2 329.4 895.8 339.1 892.4 346.5C889.0 353.9 885.7 359.2 881.0 365.8C876.3 372.4 869.7 380.5 864.0 386.2C858.3 391.9 853.3 395.0 847.0 399.8C840.7 404.6 832.9 410.1 826.2 414.8C819.5 419.5 812.7 423.6 806.7 427.8C800.7 432.0 794.3 436.0 790.0 440.0C785.7 444.0 782.7 448.3 781.0 452.0C779.3 455.7 779.0 459.2 780.0 462.0C781.0 464.8 783.1 467.6 787.0 469.0C790.9 470.4 796.7 471.3 803.5 470.5C810.3 469.7 820.4 467.5 827.7 464.0C835.0 460.5 841.2 454.7 847.2 449.7C853.2 444.7 858.7 440.0 864.0 433.8C869.3 427.6 874.4 419.1 878.8 412.3C883.1 405.5 886.3 400.2 890.1 393.0C893.9 385.8 898.3 376.6 901.5 369.2C904.7 361.8 906.8 356.4 909.4 348.8C912.0 341.2 915.2 330.4 917.3 323.8C919.4 317.2 920.3 316.8 921.9 309.0C923.5 301.2 925.4 286.1 926.7 277.0C928.1 267.9 929.2 262.4 930.0 254.3C930.8 246.2 931.4 236.8 931.7 228.6C932.0 220.4 931.8 213.2 931.7 205.0C931.6 196.8 931.2 187.5 931.0 179.3C930.8 171.1 931.0 163.9 930.5 156.0C930.0 148.1 928.8 139.8 927.7 131.9C926.7 124.0 925.8 116.5 924.2 108.5C922.6 100.5 919.8 89.7 918.3 84.2C916.8 78.7 916.1 77.5 915.0 75.4C913.9 73.3 912.6 71.4 911.5 71.5Z" fill="none" stroke="#ff0000" stroke-width="3.2" stroke-linejoin="round" stroke-linecap="butt" stroke-dasharray="23.000 25.645" stroke-dashoffset="13.10"/><g transform="translate(732.4 417.6) rotate(-19)"><text paint-order="stroke" stroke="#fff" stroke-opacity="0.7" stroke-width="1.85" transform="matrix(1.3000 0 0 1.0120 -2.60 0.00)" font-family="Liberation Serif" font-weight="bold" font-size="38" >2</text></g><g transform="translate(732.4 417.6) rotate(-19)"><text paint-order="stroke" stroke="#fff" stroke-opacity="0.7" stroke-width="1.89" transform="matrix(1.2700 0 0 0.9143 21.83 0.00)" font-family="Liberation Serif" font-weight="bold" font-style="italic" font-size="38" >σ</text></g><path d="M838.0 525.0C839.5 520.2 843.9 506.2 847.1 496.3C850.3 486.4 853.9 475.7 857.3 465.4C860.7 455.1 864.0 444.9 867.4 434.6C870.8 424.4 874.9 411.6 877.5 403.9C880.1 396.2 881.0 393.4 882.8 388.3C884.5 383.2 886.2 378.3 888.0 373.2C889.8 368.1 891.8 362.5 893.6 357.5C895.4 352.5 897.2 348.1 899.0 343.0C900.8 337.9 902.5 332.4 904.2 327.2C905.9 322.0 907.5 317.1 909.2 312.0C910.9 306.9 912.7 301.5 914.4 296.4C916.1 291.3 917.8 286.5 919.5 281.5C921.2 276.5 922.9 271.7 924.7 266.6C926.6 261.5 928.8 256.2 930.6 251.0C932.5 245.8 934.1 240.6 935.8 235.4C937.5 230.2 939.1 224.7 941.0 219.6C942.9 214.5 945.2 209.9 947.0 204.9C948.8 199.9 950.2 194.8 952.0 189.7C953.8 184.6 956.0 179.4 958.0 174.3C960.0 169.2 962.0 164.0 963.9 158.9C965.8 153.8 966.5 151.5 969.5 143.7C972.5 135.9 979.9 117.3 982.0 112.0" fill="none" stroke="#0000ff" stroke-width="6.6" stroke-linejoin="round" stroke-linecap="butt" stroke-dasharray="4.000 12.200" stroke-dashoffset="4.29"/><g clip-path="url(#crb)"><path d="M846.0 520.0C847.4 515.5 851.3 502.9 854.6 493.3C857.9 483.7 862.1 472.6 865.8 462.5C869.5 452.4 873.3 442.7 876.9 432.6C880.5 422.5 885.0 409.5 887.6 401.8C890.2 394.1 891.0 391.8 892.8 386.7C894.6 381.6 896.7 376.4 898.5 371.3C900.3 366.2 901.7 361.1 903.4 356.0C905.1 350.9 906.6 346.6 908.7 340.5C910.9 334.4 914.2 325.3 916.3 319.1C918.4 312.9 919.9 308.6 921.5 303.5C923.1 298.4 924.3 293.7 926.0 288.6C927.7 283.5 930.2 278.2 931.9 273.0C933.6 267.8 934.7 262.7 936.4 257.5C938.1 252.3 940.4 247.2 942.2 242.0C944.0 236.8 945.4 231.5 947.0 226.4C948.6 221.3 950.4 216.4 952.0 211.2C953.6 206.0 955.2 200.5 956.9 195.4C958.6 190.3 960.6 185.6 962.2 180.6C963.9 175.6 965.2 170.5 966.8 165.2C968.4 159.9 968.8 156.9 971.7 149.0C974.6 141.1 982.0 123.2 984.0 118.0" fill="none" stroke="#0000ff" stroke-width="6.6" stroke-linejoin="round" stroke-linecap="butt" stroke-dasharray="4.000 12.200" stroke-dashoffset="6.35"/></g><g clip-path="url(#crt)"><path d="M846.0 520.0C847.4 515.5 851.3 502.9 854.6 493.3C857.9 483.7 862.1 472.6 865.8 462.5C869.5 452.4 873.3 442.7 876.9 432.6C880.5 422.5 885.0 409.5 887.6 401.8C890.2 394.1 891.0 391.8 892.8 386.7C894.6 381.6 896.7 376.4 898.5 371.3C900.3 366.2 901.7 361.1 903.4 356.0C905.1 350.9 906.6 346.6 908.7 340.5C910.9 334.4 914.2 325.3 916.3 319.1C918.4 312.9 919.9 308.6 921.5 303.5C923.1 298.4 924.3 293.7 926.0 288.6C927.7 283.5 930.2 278.2 931.9 273.0C933.6 267.8 934.7 262.7 936.4 257.5C938.1 252.3 940.4 247.2 942.2 242.0C944.0 236.8 945.4 231.5 947.0 226.4C948.6 221.3 950.4 216.4 952.0 211.2C953.6 206.0 955.2 200.5 956.9 195.4C958.6 190.3 960.6 185.6 962.2 180.6C963.9 175.6 965.2 170.5 966.8 165.2C968.4 159.9 968.8 156.9 971.7 149.0C974.6 141.1 982.0 123.2 984.0 118.0" fill="none" stroke="#0000ff" stroke-width="6.6" stroke-linejoin="round" stroke-linecap="butt" stroke-dasharray="4.000 12.200" stroke-dashoffset="15.89"/></g></g><path d="M253.2 19.0v16M253.2 503.0v-16M379.6 19.0v16M379.6 503.0v-16M505.0 19.0v16M505.0 503.0v-16M172.0 157.0h16M530.0 157.0h-16M172.0 294.8h16M530.0 294.8h-16M172.0 433.0h16M530.0 433.0h-16M172.0 88.0h8M530.0 88.0h-8M172.0 226.3h8M530.0 226.3h-8M172.0 364.3h8M530.0 364.3h-8M671.2 19.3v16M671.2 503.0v-16M773.3 19.3v16M773.3 503.0v-16M875.8 19.3v16M875.8 503.0v-16M619.5 48.0h16M978.7 48.0h-16M619.5 161.5h16M978.7 161.5h-16M619.5 275.3h16M978.7 275.3h-16M619.5 389.0h16M978.7 389.0h-16" stroke="#000" stroke-width="2" fill="none"/><rect x="172" y="19" width="358" height="484" fill="none" stroke="#000" stroke-width="4"/><rect x="619.5" y="19.3" width="359.20000000000005" height="483.7" fill="none" stroke="#000" stroke-width="4"/><text transform="matrix(1.1667 0 0 1.0120 228.00 601.70)" font-family="Liberation Serif" font-weight="bold" font-style="italic" font-size="38" stroke="#fff" stroke-width="0.26">E</text><text transform="matrix(0.9500 0 0 1.1118 260.10 602.31)" font-family="Liberation Serif" font-size="38" stroke="#000" stroke-width="0.36">(</text><text transform="matrix(1.4700 0 0 1.1857 274.90 588.10)" font-family="Liberation Serif" font-weight="bold" font-size="20" stroke="#fff" stroke-width="0.20">4</text><text transform="matrix(1.1000 0 0 1.0280 292.60 602.10)" font-family="Liberation Serif" font-weight="bold" font-size="38" stroke="#fff" stroke-width="0.27">He</text><text transform="matrix(0.9800 0 0 1.0882 345.62 602.09)" font-family="Liberation Serif" font-size="38" stroke="#000" stroke-width="0.37">)</text><text transform="matrix(1.0400 0 0 0.9029 369.32 598.68)" font-family="Liberation Serif" font-size="38" stroke="#000" stroke-width="0.77">(</text><text transform="matrix(1.0234 0 0 1.0269 381.38 601.47)" font-family="Liberation Serif" font-size="38" stroke="#000" stroke-width="0.78">MeV</text><text transform="matrix(0.9200 0 0 0.9029 462.08 598.68)" font-family="Liberation Serif" font-size="38" stroke="#000" stroke-width="0.87">)</text><text transform="matrix(1.1667 0 0 1.0120 674.00 601.70)" font-family="Liberation Serif" font-weight="bold" font-style="italic" font-size="38" stroke="#fff" stroke-width="0.26">E</text><text transform="matrix(0.9500 0 0 1.1118 706.10 602.31)" font-family="Liberation Serif" font-size="38" stroke="#000" stroke-width="0.36">(</text><text transform="matrix(1.4700 0 0 1.1857 720.90 588.10)" font-family="Liberation Serif" font-weight="bold" font-size="20" stroke="#fff" stroke-width="0.20">4</text><text transform="matrix(1.1000 0 0 1.0280 738.60 602.10)" font-family="Liberation Serif" font-weight="bold" font-size="38" stroke="#fff" stroke-width="0.27">He</text><text transform="matrix(0.9800 0 0 1.0882 791.62 602.09)" font-family="Liberation Serif" font-size="38" stroke="#000" stroke-width="0.37">)</text><text transform="matrix(1.0400 0 0 0.9029 815.32 598.68)" font-family="Liberation Serif" font-size="38" stroke="#000" stroke-width="0.77">(</text><text transform="matrix(1.0234 0 0 1.0269 827.38 601.47)" font-family="Liberation Serif" font-size="38" stroke="#000" stroke-width="0.78">MeV</text><text transform="matrix(0.9200 0 0 0.9029 908.08 598.68)" font-family="Liberation Serif" font-size="38" stroke="#000" stroke-width="0.87">)</text><g transform="rotate(-90)"><text transform="matrix(1.2042 0 0 1.0440 -394.00 36.30)" font-family="Liberation Serif" font-weight="bold" font-style="italic" font-size="38" stroke="#fff" stroke-width="0.25">R</text></g><g transform="rotate(-90)"><text transform="matrix(1.9000 0 0 1.3647 -368.70 40.48)" font-family="Liberation Serif" font-size="22" stroke="#000" stroke-width="0.26">pt−p</text></g><g transform="rotate(-90)"><text transform="matrix(1.1700 0 0 1.0706 -285.44 35.14)" font-family="Liberation Serif" font-size="38" stroke="#000" stroke-width="0.34">(</text></g><g transform="rotate(-90)"><text transform="matrix(1.5500 0 0 1.1500 -270.05 21.90)" font-family="Liberation Serif" font-weight="bold" font-size="20" stroke="#fff" stroke-width="0.19">2</text></g><g transform="rotate(-90)"><text transform="matrix(1.0429 0 0 1.0200 -251.34 35.70)" font-family="Liberation Serif" font-weight="bold" font-size="38" stroke="#fff" stroke-width="0.29">H</text></g><g transform="rotate(-90)"><text transform="matrix(1.0200 0 0 1.0706 -218.52 35.14)" font-family="Liberation Serif" font-size="38" stroke="#000" stroke-width="0.37">)</text></g><g transform="rotate(-90)"><text transform="matrix(1.0500 0 0 0.9294 -193.30 33.06)" font-family="Liberation Serif" font-size="38" stroke="#000" stroke-width="0.38">(</text></g><g transform="rotate(-90)"><text transform="matrix(1.0550 0 0 0.9926 -182.81 35.70)" font-family="Liberation Serif" font-size="38" stroke="#000" stroke-width="0.38">fm</text></g><g transform="rotate(-90)"><text transform="matrix(0.9800 0 0 0.9294 -136.28 33.06)" font-family="Liberation Serif" font-size="38" stroke="#000" stroke-width="0.41">)</text></g><text transform="matrix(0.9913 0 0 0.9792 184.01 60.00)" font-family="Liberation Sans" font-weight="bold" font-size="35" >A</text><text transform="matrix(1.0000 0 0 1.0292 647.00 61.00)" font-family="Liberation Sans" font-weight="bold" font-size="35" >B</text><text transform="matrix(0.9951 0 0 1.0480 67.61 29.60)" font-family="Liberation Serif" font-size="38" >1.968</text><text transform="matrix(0.9829 0 0 1.0480 67.65 167.60)" font-family="Liberation Serif" font-size="38" >1.967</text><text transform="matrix(0.9829 0 0 1.0480 67.65 305.40)" font-family="Liberation Serif" font-size="38" >1.966</text><text transform="matrix(0.9951 0 0 1.0480 67.61 443.60)" font-family="Liberation Serif" font-size="38" >1.965</text><text transform="matrix(1.0222 0 0 1.0480 555.18 513.40)" font-family="Liberation Serif" font-size="38" >0.8</text><text transform="matrix(1.0127 0 0 1.0200 482.87 548.80)" font-family="Liberation Serif" font-size="38" >28.0</text><text transform="matrix(0.9698 0 0 1.0200 654.89 548.10)" font-family="Liberation Serif" font-size="38" >120</text><text transform="matrix(1.0222 0 0 1.0480 555.18 58.70)" font-family="Liberation Serif" font-size="38" >4.0</text><text transform="matrix(1.0222 0 0 1.0480 555.18 172.20)" font-family="Liberation Serif" font-size="38" >3.2</text><text transform="matrix(1.0222 0 0 1.0480 554.16 286.00)" font-family="Liberation Serif" font-size="38" >2.4</text><text transform="matrix(1.0222 0 0 1.0480 554.16 399.70)" font-family="Liberation Serif" font-size="38" >1.6</text><text transform="matrix(1.0127 0 0 1.0200 231.02 548.80)" font-family="Liberation Serif" font-size="38" >28.4</text><text transform="matrix(1.0127 0 0 1.0200 357.42 548.80)" font-family="Liberation Serif" font-size="38" >28.2</text><text transform="matrix(0.9698 0 0 1.0200 768.08 548.10)" font-family="Liberation Serif" font-size="38" >80</text><text transform="matrix(0.9698 0 0 1.0200 870.58 548.10)" font-family="Liberation Serif" font-size="38" >40</text><text transform="matrix(0.9698 0 0 1.0200 968.43 546.30)" font-family="Liberation Serif" font-size="38" >0</text><path fill="#000" d="M205.6 538.7h22.6v1.8h-22.6zM332.0 538.7h22.6v1.8h-22.6zM457.4 538.7h22.6v1.8h-22.6zM628.6 538.1h22.1v1.8h-22.1zM739.8 538.1h22.1v1.8h-22.1zM842.3 538.1h22.1v1.8h-22.1z"/></svg></body></html>
